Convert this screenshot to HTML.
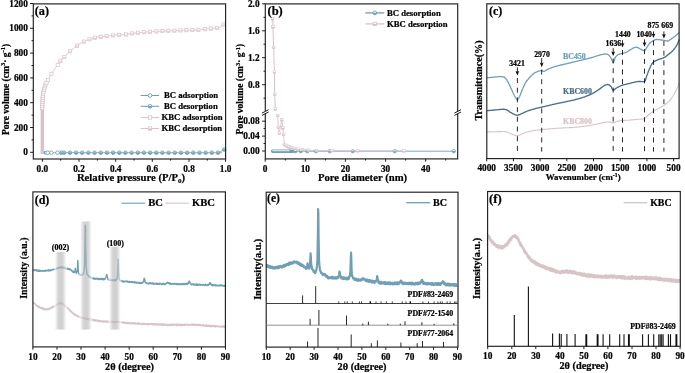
<!DOCTYPE html>
<html><head><meta charset="utf-8"><title>Figure</title>
<style>
html,body{margin:0;padding:0;background:#fff;}
body{width:685px;height:373px;overflow:hidden;font-family:"Liberation Serif",serif;}
svg{display:block;font-family:"Liberation Serif",serif;font-weight:bold;will-change:transform;opacity:0.999;}
text{stroke-width:0.22px;}
</style></head><body>
<svg width="685" height="373" viewBox="0 0 685 373">
<rect width="685" height="373" fill="#fff"/>
<defs><linearGradient id="gb" x1="0" x2="1" y1="0" y2="0"><stop offset="0" stop-color="rgb(255,255,255)"/><stop offset="0.08" stop-color="rgb(250,250,250)"/><stop offset="0.18" stop-color="rgb(223,223,223)"/><stop offset="0.31" stop-color="rgb(190,190,190)"/><stop offset="0.42" stop-color="rgb(181,181,181)"/><stop offset="0.5" stop-color="rgb(179,179,179)"/><stop offset="0.58" stop-color="rgb(181,181,181)"/><stop offset="0.69" stop-color="rgb(190,190,190)"/><stop offset="0.82" stop-color="rgb(223,223,223)"/><stop offset="0.92" stop-color="rgb(250,250,250)"/><stop offset="1" stop-color="rgb(255,255,255)"/></linearGradient></defs>
<rect x="40.6" y="106" width="3.5" height="48" fill="#d8c3c7"/>
<polyline points="42.2,108.1 42.2,107.6 42.3,107.1 42.3,106.6 42.3,106.1 42.3,105.6 42.4,105.1 42.4,104.6 42.4,104.1 42.4,103.6 42.4,103.1 42.4,102.6 42.5,102.1 42.5,101.6 42.5,101.1 42.5,100.6 42.5,100.1 42.5,99.6 42.6,99.1 42.6,98.6 42.6,98.1 42.7,97.6 42.7,97.1 42.7,96.6 42.8,96.1 42.8,95.6 42.9,95.1 42.9,94.6 43,94.1 43.1,93.6 43.2,93.1 43.3,92.7 43.4,92.2 43.6,91.7 43.7,91.2 43.8,90.7 43.9,90.2 44,89.7 44.1,89.2 44.2,88.8 44.3,88.3 44.4,87.8 44.5,87.3 44.7,86.8 44.8,86.3 45,85.9 45.2,85.4 45.4,84.9 45.6,84.5 45.8,84 46,83.6 46.2,83.1 46.5,82.7 46.7,82.3 47,81.8 47.2,81.4 47.5,81 47.7,80.5 48,80.1 48.2,79.7 48.5,79.2 48.7,78.8 48.9,78.4 49.2,77.9 49.4,77.5 49.6,77 49.9,76.6 50.1,76.1 50.4,75.7 50.6,75.3 50.8,74.8 51.1,74.4 51.4,74 51.6,73.5 51.9,73.1 52.2,72.7 52.4,72.3 52.7,71.9 53,71.5 53.3,71.1 53.6,70.7 53.9,70.2 54.2,69.8 54.5,69.4 54.7,69 55,68.6 55.3,68.2 55.6,67.8 55.9,67.4 56.2,67 56.5,66.6 56.8,66.2 57.1,65.8 57.4,65.4 57.7,65 57.9,64.5 58.2,64.1 58.5,63.7 58.7,63.3 59,62.8 59.3,62.4 59.5,62 59.8,61.6 60.1,61.2 60.4,60.8 60.7,60.4 61.1,60 61.4,59.7 61.8,59.3 62.1,59 62.5,58.6 62.9,58.3 63.2,58 63.6,57.6 64,57.3 64.3,56.9 64.7,56.6 65.1,56.2 65.4,55.9 65.8,55.5 66.1,55.2 66.5,54.8 66.8,54.5 67.2,54.1 67.5,53.8 67.9,53.4 68.2,53.1 68.6,52.7 69,52.4 69.3,52 69.7,51.7 70.1,51.3 70.4,51 70.8,50.7 71.2,50.3 71.6,50 71.9,49.7 72.3,49.4 72.7,49 73.1,48.7 73.5,48.4 73.9,48.1 74.3,47.8 74.6,47.5 75,47.2 75.4,46.9 75.8,46.6 76.2,46.3 76.7,46 77.1,45.7 77.5,45.4 77.9,45.1 78.3,44.9 78.7,44.6 79.1,44.3 79.6,44.1 80,43.8 80.4,43.5 80.9,43.3 81.3,43 81.7,42.8 82.2,42.5 82.6,42.3 83.1,42.1 83.5,41.8 84,41.6 84.4,41.4 84.8,41.2 85.3,41 85.8,40.8 86.2,40.6 86.7,40.4 87.1,40.2 87.6,40 88.1,39.8 88.5,39.6 89,39.4 89.5,39.3 89.9,39.1 90.4,39 90.9,38.8 91.4,38.6 91.8,38.5 92.3,38.3 92.8,38.2 93.3,38.1 93.8,38 94.3,37.8 94.8,37.7 95.2,37.6 95.7,37.5 96.2,37.5 96.7,37.4 97.2,37.3 97.7,37.2 98.2,37.2 98.7,37.1 99.2,37 99.7,36.9 100.2,36.9 100.7,36.8 101.2,36.8 101.7,36.7 102.2,36.6 102.7,36.6 103.2,36.5 103.7,36.4 104.2,36.4 104.7,36.3 105.1,36.3 105.6,36.2 106.1,36.2 106.6,36.1 107.1,36.1 107.6,36 108.1,35.9 108.6,35.9 109.1,35.8 109.6,35.8 110.1,35.7 110.6,35.7 111.1,35.6 111.6,35.6 112.1,35.5 112.6,35.5 113.1,35.4 113.6,35.4 114.1,35.3 114.6,35.3 115.1,35.2 115.6,35.2 116.1,35.1 116.6,35.1 117.1,35.1 117.6,35 118.1,35 118.6,34.9 119.1,34.9 119.6,34.9 120.1,34.8 120.6,34.8 121.1,34.8 121.6,34.8 122.1,34.7 122.6,34.7 123.1,34.7 123.6,34.7 124.1,34.6 124.6,34.6 125.1,34.6 125.6,34.5 126.1,34.5 126.6,34.4 127.1,34.4 127.5,34.3 128,34.2 128.5,34.1 129,34 129.5,33.9 130,33.8 130.5,33.7 131,33.6 131.5,33.5 132,33.4 132.5,33.3 133,33.3 133.5,33.2 134,33.2 134.4,33.1 134.9,33.1 135.4,33 135.9,32.9 136.4,32.9 136.9,32.8 137.4,32.8 137.9,32.7 138.4,32.7 138.9,32.7 139.4,32.6 139.9,32.6 140.4,32.5 140.9,32.5 141.4,32.4 141.9,32.4 142.4,32.4 142.9,32.3 143.4,32.3 143.9,32.2 144.4,32.2 144.9,32.2 145.4,32.1 145.9,32.1 146.4,32.1 146.9,32 147.4,32 147.9,32 148.4,31.9 148.9,31.9 149.4,31.9 149.9,31.8 150.4,31.8 150.9,31.8 151.4,31.7 151.9,31.7 152.4,31.7 152.9,31.6 153.4,31.6 153.9,31.6 154.4,31.5 154.9,31.5 155.4,31.5 155.9,31.5 156.4,31.4 156.9,31.4 157.4,31.4 157.9,31.3 158.4,31.3 158.9,31.3 159.4,31.3 159.9,31.2 160.4,31.2 160.9,31.2 161.4,31.2 161.9,31.1 162.4,31.1 162.9,31.1 163.4,31.1 163.9,31 164.4,31 164.9,31 165.4,31 165.9,31 166.4,30.9 166.9,30.9 167.4,30.9 167.9,30.9 168.4,30.8 168.9,30.8 169.4,30.8 169.9,30.8 170.4,30.8 170.9,30.7 171.4,30.7 171.9,30.7 172.4,30.7 172.9,30.7 173.4,30.6 173.9,30.6 174.4,30.6 174.9,30.6 175.4,30.6 175.9,30.5 176.4,30.5 176.9,30.5 177.4,30.5 177.9,30.5 178.4,30.5 178.9,30.4 179.4,30.4 179.9,30.4 180.4,30.4 180.9,30.4 181.4,30.4 181.9,30.4 182.4,30.3 182.9,30.3 183.4,30.3 183.9,30.3 184.4,30.3 184.9,30.3 185.4,30.3 185.9,30.3 186.4,30.2 186.9,30.2 187.4,30.2 187.9,30.2 188.4,30.2 188.9,30.2 189.4,30.2 189.9,30.1 190.4,30.1 190.9,30.1 191.4,30.1 191.9,30.1 192.4,30.1 192.9,30 193.4,30 193.9,30 194.4,30 194.9,30 195.4,29.9 195.9,29.9 196.4,29.9 196.9,29.9 197.4,29.9 197.9,29.8 198.4,29.8 198.9,29.8 199.4,29.7 199.9,29.7 200.4,29.7 200.8,29.6 201.3,29.6 201.8,29.5 202.3,29.5 202.8,29.4 203.3,29.4 203.8,29.3 204.3,29.3 204.8,29.2 205.3,29.1 205.8,29.1 206.3,29 206.8,29 207.3,28.9 207.8,28.9 208.3,28.8 208.8,28.8 209.3,28.7 209.8,28.7 210.3,28.6 210.8,28.6 211.3,28.6 211.9,28.5 212.4,28.5 212.9,28.5 213.4,28.4 213.9,28.4 214.4,28.3 214.9,28.3 215.4,28.2 215.9,28.2 216.4,28.1 216.9,28.1 217.4,28 217.8,27.9 218.3,27.9 218.7,27.8 219.2,27.6 219.6,27.5 220.1,27.2 220.5,27 220.9,26.7 221.3,26.4 221.7,26 222.1,25.7 222.5,25.4 222.9,25 223.3,24.7 223.7,24.4 224.1,24.1 224.5,23.8 224.9,23.5 225.2,23.2" fill="none" stroke="#d8c3c7" stroke-width="1.0" stroke-linejoin="round" />
<rect x="40.6" y="106.5" width="3.2" height="3.2" fill="#fff" stroke="#d8c3c7" stroke-width="0.75"/>
<rect x="40.7" y="104.5" width="3.2" height="3.2" fill="#fff" stroke="#d8c3c7" stroke-width="0.75"/>
<rect x="40.8" y="102.5" width="3.2" height="3.2" fill="#fff" stroke="#d8c3c7" stroke-width="0.75"/>
<rect x="40.9" y="100.5" width="3.2" height="3.2" fill="#fff" stroke="#d8c3c7" stroke-width="0.75"/>
<rect x="40.9" y="98.5" width="3.2" height="3.2" fill="#fff" stroke="#d8c3c7" stroke-width="0.75"/>
<rect x="41" y="96.5" width="3.2" height="3.2" fill="#fff" stroke="#d8c3c7" stroke-width="0.75"/>
<rect x="41.2" y="94.5" width="3.2" height="3.2" fill="#fff" stroke="#d8c3c7" stroke-width="0.75"/>
<rect x="41.4" y="92.5" width="3.2" height="3.2" fill="#fff" stroke="#d8c3c7" stroke-width="0.75"/>
<rect x="41.8" y="90.6" width="3.2" height="3.2" fill="#fff" stroke="#d8c3c7" stroke-width="0.75"/>
<rect x="42.3" y="88.6" width="3.2" height="3.2" fill="#fff" stroke="#d8c3c7" stroke-width="0.75"/>
<rect x="42.7" y="86.7" width="3.2" height="3.2" fill="#fff" stroke="#d8c3c7" stroke-width="0.75"/>
<rect x="43.2" y="84.7" width="3.2" height="3.2" fill="#fff" stroke="#d8c3c7" stroke-width="0.75"/>
<rect x="44" y="82.9" width="3.2" height="3.2" fill="#fff" stroke="#d8c3c7" stroke-width="0.75"/>
<rect x="44.9" y="81.1" width="3.2" height="3.2" fill="#fff" stroke="#d8c3c7" stroke-width="0.75"/>
<rect x="46.4" y="78.5" width="3.2" height="3.2" fill="#fff" stroke="#d8c3c7" stroke-width="0.75"/>
<rect x="49.8" y="72.3" width="3.2" height="3.2" fill="#fff" stroke="#d8c3c7" stroke-width="0.75"/>
<rect x="56.1" y="63.3" width="3.2" height="3.2" fill="#fff" stroke="#d8c3c7" stroke-width="0.75"/>
<rect x="58.8" y="59.2" width="3.2" height="3.2" fill="#fff" stroke="#d8c3c7" stroke-width="0.75"/>
<rect x="58.8" y="60.8" width="3.2" height="1.6" fill="#e4d5d8"/>
<rect x="62.7" y="55.3" width="3.2" height="3.2" fill="#fff" stroke="#d8c3c7" stroke-width="0.75"/>
<rect x="62.7" y="56.9" width="3.2" height="1.6" fill="#e4d5d8"/>
<rect x="68.5" y="49.7" width="3.2" height="3.2" fill="#fff" stroke="#d8c3c7" stroke-width="0.75"/>
<rect x="68.5" y="51.3" width="3.2" height="1.6" fill="#e4d5d8"/>
<rect x="75.5" y="44.1" width="3.2" height="3.2" fill="#fff" stroke="#d8c3c7" stroke-width="0.75"/>
<rect x="75.5" y="45.7" width="3.2" height="1.6" fill="#e4d5d8"/>
<rect x="82.4" y="40" width="3.2" height="3.2" fill="#fff" stroke="#d8c3c7" stroke-width="0.75"/>
<rect x="82.4" y="41.6" width="3.2" height="1.6" fill="#e4d5d8"/>
<rect x="87.9" y="37.7" width="3.2" height="3.2" fill="#fff" stroke="#d8c3c7" stroke-width="0.75"/>
<rect x="87.9" y="39.3" width="3.2" height="1.6" fill="#e4d5d8"/>
<rect x="93.2" y="36.1" width="3.2" height="3.2" fill="#fff" stroke="#d8c3c7" stroke-width="0.75"/>
<rect x="93.2" y="37.7" width="3.2" height="1.6" fill="#e4d5d8"/>
<rect x="99.1" y="35.2" width="3.2" height="3.2" fill="#fff" stroke="#d8c3c7" stroke-width="0.75"/>
<rect x="99.1" y="36.8" width="3.2" height="1.6" fill="#e4d5d8"/>
<rect x="105" y="34.5" width="3.2" height="3.2" fill="#fff" stroke="#d8c3c7" stroke-width="0.75"/>
<rect x="105" y="36.1" width="3.2" height="1.6" fill="#e4d5d8"/>
<rect x="111.5" y="33.8" width="3.2" height="3.2" fill="#fff" stroke="#d8c3c7" stroke-width="0.75"/>
<rect x="111.5" y="35.4" width="3.2" height="1.6" fill="#e4d5d8"/>
<rect x="117.5" y="33.3" width="3.2" height="3.2" fill="#fff" stroke="#d8c3c7" stroke-width="0.75"/>
<rect x="117.5" y="34.9" width="3.2" height="1.6" fill="#e4d5d8"/>
<rect x="124.5" y="32.9" width="3.2" height="3.2" fill="#fff" stroke="#d8c3c7" stroke-width="0.75"/>
<rect x="124.5" y="34.5" width="3.2" height="1.6" fill="#e4d5d8"/>
<rect x="130.4" y="31.8" width="3.2" height="3.2" fill="#fff" stroke="#d8c3c7" stroke-width="0.75"/>
<rect x="130.4" y="33.4" width="3.2" height="1.6" fill="#e4d5d8"/>
<rect x="136.3" y="31.1" width="3.2" height="3.2" fill="#fff" stroke="#d8c3c7" stroke-width="0.75"/>
<rect x="136.3" y="32.7" width="3.2" height="1.6" fill="#e4d5d8"/>
<rect x="142.3" y="30.6" width="3.2" height="3.2" fill="#fff" stroke="#d8c3c7" stroke-width="0.75"/>
<rect x="142.3" y="32.2" width="3.2" height="1.6" fill="#e4d5d8"/>
<rect x="148.3" y="30.2" width="3.2" height="3.2" fill="#fff" stroke="#d8c3c7" stroke-width="0.75"/>
<rect x="148.3" y="31.8" width="3.2" height="1.6" fill="#e4d5d8"/>
<rect x="154.8" y="29.8" width="3.2" height="3.2" fill="#fff" stroke="#d8c3c7" stroke-width="0.75"/>
<rect x="154.8" y="31.4" width="3.2" height="1.6" fill="#e4d5d8"/>
<rect x="160.8" y="29.5" width="3.2" height="3.2" fill="#fff" stroke="#d8c3c7" stroke-width="0.75"/>
<rect x="160.8" y="31.1" width="3.2" height="1.6" fill="#e4d5d8"/>
<rect x="166.8" y="29.2" width="3.2" height="3.2" fill="#fff" stroke="#d8c3c7" stroke-width="0.75"/>
<rect x="166.8" y="30.8" width="3.2" height="1.6" fill="#e4d5d8"/>
<rect x="172.8" y="29" width="3.2" height="3.2" fill="#fff" stroke="#d8c3c7" stroke-width="0.75"/>
<rect x="172.8" y="30.6" width="3.2" height="1.6" fill="#e4d5d8"/>
<rect x="178.8" y="28.8" width="3.2" height="3.2" fill="#fff" stroke="#d8c3c7" stroke-width="0.75"/>
<rect x="178.8" y="30.4" width="3.2" height="1.6" fill="#e4d5d8"/>
<rect x="184.8" y="28.6" width="3.2" height="3.2" fill="#fff" stroke="#d8c3c7" stroke-width="0.75"/>
<rect x="184.8" y="30.2" width="3.2" height="1.6" fill="#e4d5d8"/>
<rect x="190.8" y="28.5" width="3.2" height="3.2" fill="#fff" stroke="#d8c3c7" stroke-width="0.75"/>
<rect x="190.8" y="30.1" width="3.2" height="1.6" fill="#e4d5d8"/>
<rect x="196.8" y="28.2" width="3.2" height="3.2" fill="#fff" stroke="#d8c3c7" stroke-width="0.75"/>
<rect x="196.8" y="29.8" width="3.2" height="1.6" fill="#e4d5d8"/>
<rect x="203.2" y="27.6" width="3.2" height="3.2" fill="#fff" stroke="#d8c3c7" stroke-width="0.75"/>
<rect x="203.2" y="29.2" width="3.2" height="1.6" fill="#e4d5d8"/>
<rect x="209.2" y="27" width="3.2" height="3.2" fill="#fff" stroke="#d8c3c7" stroke-width="0.75"/>
<rect x="209.2" y="28.6" width="3.2" height="1.6" fill="#e4d5d8"/>
<rect x="215.3" y="26.5" width="3.2" height="3.2" fill="#fff" stroke="#d8c3c7" stroke-width="0.75"/>
<rect x="215.3" y="28.1" width="3.2" height="1.6" fill="#e4d5d8"/>
<rect x="222" y="22.9" width="3.2" height="3.2" fill="#fff" stroke="#d8c3c7" stroke-width="0.75"/>
<rect x="222" y="24.5" width="3.2" height="1.6" fill="#e4d5d8"/>
<line x1="44" y1="152.7" x2="222" y2="152.7" stroke="#6f9fb3" stroke-width="0.8" />
<polyline points="219,152.7 224.2,149.6" fill="none" stroke="#6f9fb3" stroke-width="0.8" stroke-linejoin="round" />
<rect x="44.2" y="151" width="2.4" height="3.4" fill="#6f9fb3"/>
<rect x="45" y="151.8" width="1" height="1.8" fill="#fff"/>
<circle cx="47.7" cy="152.7" r="1.8" fill="#fff" stroke="#6f9fb3" stroke-width="0.85"/>
<circle cx="51.4" cy="152.7" r="1.8" fill="#fff" stroke="#6f9fb3" stroke-width="0.85"/>
<circle cx="57.5" cy="152.7" r="1.8" fill="#fff" stroke="#6f9fb3" stroke-width="0.85"/>
<circle cx="61.4" cy="152.7" r="1.8" fill="#c3d7df" stroke="#6f9fb3" stroke-width="0.85"/>
<path d="M59.6,152.4 A1.8,1.8 0 0 0 63.2,152.4 Z" fill="#6f9fb3"/>
<circle cx="64.1" cy="152.7" r="1.8" fill="#c3d7df" stroke="#6f9fb3" stroke-width="0.85"/>
<path d="M62.3,152.4 A1.8,1.8 0 0 0 65.9,152.4 Z" fill="#6f9fb3"/>
<circle cx="69.9" cy="152.7" r="1.8" fill="#c3d7df" stroke="#6f9fb3" stroke-width="0.85"/>
<path d="M68.1,152.4 A1.8,1.8 0 0 0 71.7,152.4 Z" fill="#6f9fb3"/>
<circle cx="76.1" cy="152.7" r="1.8" fill="#c3d7df" stroke="#6f9fb3" stroke-width="0.85"/>
<path d="M74.3,152.4 A1.8,1.8 0 0 0 77.9,152.4 Z" fill="#6f9fb3"/>
<circle cx="82.2" cy="152.7" r="1.8" fill="#c3d7df" stroke="#6f9fb3" stroke-width="0.85"/>
<path d="M80.4,152.4 A1.8,1.8 0 0 0 84,152.4 Z" fill="#6f9fb3"/>
<circle cx="88.4" cy="152.7" r="1.8" fill="#c3d7df" stroke="#6f9fb3" stroke-width="0.85"/>
<path d="M86.6,152.4 A1.8,1.8 0 0 0 90.2,152.4 Z" fill="#6f9fb3"/>
<circle cx="94.6" cy="152.7" r="1.8" fill="#c3d7df" stroke="#6f9fb3" stroke-width="0.85"/>
<path d="M92.8,152.4 A1.8,1.8 0 0 0 96.4,152.4 Z" fill="#6f9fb3"/>
<circle cx="100.8" cy="152.7" r="1.8" fill="#c3d7df" stroke="#6f9fb3" stroke-width="0.85"/>
<path d="M99,152.4 A1.8,1.8 0 0 0 102.6,152.4 Z" fill="#6f9fb3"/>
<circle cx="106.9" cy="152.7" r="1.8" fill="#c3d7df" stroke="#6f9fb3" stroke-width="0.85"/>
<path d="M105.1,152.4 A1.8,1.8 0 0 0 108.7,152.4 Z" fill="#6f9fb3"/>
<circle cx="113.1" cy="152.7" r="1.8" fill="#c3d7df" stroke="#6f9fb3" stroke-width="0.85"/>
<path d="M111.3,152.4 A1.8,1.8 0 0 0 114.9,152.4 Z" fill="#6f9fb3"/>
<circle cx="119.3" cy="152.7" r="1.8" fill="#c3d7df" stroke="#6f9fb3" stroke-width="0.85"/>
<path d="M117.5,152.4 A1.8,1.8 0 0 0 121.1,152.4 Z" fill="#6f9fb3"/>
<circle cx="125.4" cy="152.7" r="1.8" fill="#c3d7df" stroke="#6f9fb3" stroke-width="0.85"/>
<path d="M123.6,152.4 A1.8,1.8 0 0 0 127.2,152.4 Z" fill="#6f9fb3"/>
<circle cx="131.6" cy="152.7" r="1.8" fill="#c3d7df" stroke="#6f9fb3" stroke-width="0.85"/>
<path d="M129.8,152.4 A1.8,1.8 0 0 0 133.4,152.4 Z" fill="#6f9fb3"/>
<circle cx="137.8" cy="152.7" r="1.8" fill="#c3d7df" stroke="#6f9fb3" stroke-width="0.85"/>
<path d="M136,152.4 A1.8,1.8 0 0 0 139.6,152.4 Z" fill="#6f9fb3"/>
<circle cx="143.9" cy="152.7" r="1.8" fill="#c3d7df" stroke="#6f9fb3" stroke-width="0.85"/>
<path d="M142.1,152.4 A1.8,1.8 0 0 0 145.7,152.4 Z" fill="#6f9fb3"/>
<circle cx="150.1" cy="152.7" r="1.8" fill="#c3d7df" stroke="#6f9fb3" stroke-width="0.85"/>
<path d="M148.3,152.4 A1.8,1.8 0 0 0 151.9,152.4 Z" fill="#6f9fb3"/>
<circle cx="156.3" cy="152.7" r="1.8" fill="#c3d7df" stroke="#6f9fb3" stroke-width="0.85"/>
<path d="M154.5,152.4 A1.8,1.8 0 0 0 158.1,152.4 Z" fill="#6f9fb3"/>
<circle cx="162.4" cy="152.7" r="1.8" fill="#c3d7df" stroke="#6f9fb3" stroke-width="0.85"/>
<path d="M160.6,152.4 A1.8,1.8 0 0 0 164.2,152.4 Z" fill="#6f9fb3"/>
<circle cx="168.6" cy="152.7" r="1.8" fill="#c3d7df" stroke="#6f9fb3" stroke-width="0.85"/>
<path d="M166.8,152.4 A1.8,1.8 0 0 0 170.4,152.4 Z" fill="#6f9fb3"/>
<circle cx="174.8" cy="152.7" r="1.8" fill="#c3d7df" stroke="#6f9fb3" stroke-width="0.85"/>
<path d="M173,152.4 A1.8,1.8 0 0 0 176.6,152.4 Z" fill="#6f9fb3"/>
<circle cx="181" cy="152.7" r="1.8" fill="#c3d7df" stroke="#6f9fb3" stroke-width="0.85"/>
<path d="M179.2,152.4 A1.8,1.8 0 0 0 182.8,152.4 Z" fill="#6f9fb3"/>
<circle cx="187.1" cy="152.7" r="1.8" fill="#c3d7df" stroke="#6f9fb3" stroke-width="0.85"/>
<path d="M185.3,152.4 A1.8,1.8 0 0 0 188.9,152.4 Z" fill="#6f9fb3"/>
<circle cx="193.3" cy="152.7" r="1.8" fill="#c3d7df" stroke="#6f9fb3" stroke-width="0.85"/>
<path d="M191.5,152.4 A1.8,1.8 0 0 0 195.1,152.4 Z" fill="#6f9fb3"/>
<circle cx="199.5" cy="152.7" r="1.8" fill="#c3d7df" stroke="#6f9fb3" stroke-width="0.85"/>
<path d="M197.7,152.4 A1.8,1.8 0 0 0 201.3,152.4 Z" fill="#6f9fb3"/>
<circle cx="205.6" cy="152.7" r="1.8" fill="#c3d7df" stroke="#6f9fb3" stroke-width="0.85"/>
<path d="M203.8,152.4 A1.8,1.8 0 0 0 207.4,152.4 Z" fill="#6f9fb3"/>
<circle cx="211.8" cy="152.7" r="1.8" fill="#c3d7df" stroke="#6f9fb3" stroke-width="0.85"/>
<path d="M210,152.4 A1.8,1.8 0 0 0 213.6,152.4 Z" fill="#6f9fb3"/>
<circle cx="218" cy="152.7" r="1.8" fill="#c3d7df" stroke="#6f9fb3" stroke-width="0.85"/>
<path d="M216.2,152.4 A1.8,1.8 0 0 0 219.8,152.4 Z" fill="#6f9fb3"/>
<circle cx="224.2" cy="149.6" r="1.8" fill="#c3d7df" stroke="#6f9fb3" stroke-width="0.85"/>
<path d="M222.4,149.3 A1.8,1.8 0 0 0 226,149.3 Z" fill="#6f9fb3"/>
<rect x="33.3" y="3.9" width="192.3" height="155.1" fill="none" stroke="#1e1e1e" stroke-width="1.15"/>
<line x1="30.1" y1="152.3" x2="33.3" y2="152.3" stroke="#1e1e1e" stroke-width="1.0" />
<text x="27.9" y="155.4" font-size="9.3" text-anchor="end" fill="#000" stroke="#000" >0</text>
<line x1="30.1" y1="127.5" x2="33.3" y2="127.5" stroke="#1e1e1e" stroke-width="1.0" />
<text x="27.9" y="130.6" font-size="9.3" text-anchor="end" fill="#000" stroke="#000" >200</text>
<line x1="30.1" y1="102.7" x2="33.3" y2="102.7" stroke="#1e1e1e" stroke-width="1.0" />
<text x="27.9" y="105.8" font-size="9.3" text-anchor="end" fill="#000" stroke="#000" >400</text>
<line x1="30.1" y1="77.9" x2="33.3" y2="77.9" stroke="#1e1e1e" stroke-width="1.0" />
<text x="27.9" y="81" font-size="9.3" text-anchor="end" fill="#000" stroke="#000" >600</text>
<line x1="30.1" y1="53.1" x2="33.3" y2="53.1" stroke="#1e1e1e" stroke-width="1.0" />
<text x="27.9" y="56.2" font-size="9.3" text-anchor="end" fill="#000" stroke="#000" >800</text>
<line x1="30.1" y1="28.3" x2="33.3" y2="28.3" stroke="#1e1e1e" stroke-width="1.0" />
<text x="27.9" y="31.4" font-size="9.3" text-anchor="end" fill="#000" stroke="#000" >1000</text>
<line x1="30.1" y1="3.5" x2="33.3" y2="3.5" stroke="#1e1e1e" stroke-width="1.0" />
<text x="27.9" y="6.6" font-size="9.3" text-anchor="end" fill="#000" stroke="#000" >1200</text>
<line x1="31.5" y1="139.9" x2="33.3" y2="139.9" stroke="#1e1e1e" stroke-width="1.0" />
<line x1="31.5" y1="115.1" x2="33.3" y2="115.1" stroke="#1e1e1e" stroke-width="1.0" />
<line x1="31.5" y1="90.3" x2="33.3" y2="90.3" stroke="#1e1e1e" stroke-width="1.0" />
<line x1="31.5" y1="65.5" x2="33.3" y2="65.5" stroke="#1e1e1e" stroke-width="1.0" />
<line x1="31.5" y1="40.7" x2="33.3" y2="40.7" stroke="#1e1e1e" stroke-width="1.0" />
<line x1="31.5" y1="15.9" x2="33.3" y2="15.9" stroke="#1e1e1e" stroke-width="1.0" />
<line x1="42.4" y1="159" x2="42.4" y2="161.8" stroke="#1e1e1e" stroke-width="1.0" />
<text x="42.4" y="171.6" font-size="9.3" text-anchor="middle" fill="#000" stroke="#000" >0.0</text>
<line x1="79" y1="159" x2="79" y2="161.8" stroke="#1e1e1e" stroke-width="1.0" />
<text x="79" y="171.6" font-size="9.3" text-anchor="middle" fill="#000" stroke="#000" >0.2</text>
<line x1="115.7" y1="159" x2="115.7" y2="161.8" stroke="#1e1e1e" stroke-width="1.0" />
<text x="115.7" y="171.6" font-size="9.3" text-anchor="middle" fill="#000" stroke="#000" >0.4</text>
<line x1="152.3" y1="159" x2="152.3" y2="161.8" stroke="#1e1e1e" stroke-width="1.0" />
<text x="152.3" y="171.6" font-size="9.3" text-anchor="middle" fill="#000" stroke="#000" >0.6</text>
<line x1="189" y1="159" x2="189" y2="161.8" stroke="#1e1e1e" stroke-width="1.0" />
<text x="189" y="171.6" font-size="9.3" text-anchor="middle" fill="#000" stroke="#000" >0.8</text>
<line x1="225.6" y1="159" x2="225.6" y2="161.8" stroke="#1e1e1e" stroke-width="1.0" />
<text x="225.6" y="171.6" font-size="9.3" text-anchor="middle" fill="#000" stroke="#000" >1.0</text>
<line x1="60.7" y1="159" x2="60.7" y2="160.6" stroke="#1e1e1e" stroke-width="1.0" />
<line x1="97.4" y1="159" x2="97.4" y2="160.6" stroke="#1e1e1e" stroke-width="1.0" />
<line x1="134" y1="159" x2="134" y2="160.6" stroke="#1e1e1e" stroke-width="1.0" />
<line x1="170.6" y1="159" x2="170.6" y2="160.6" stroke="#1e1e1e" stroke-width="1.0" />
<line x1="207.3" y1="159" x2="207.3" y2="160.6" stroke="#1e1e1e" stroke-width="1.0" />
<text x="34.8" y="15.4" font-size="12.2" text-anchor="start" fill="#000" stroke="#000" >(a)</text>
<text x="131" y="180.8" font-size="10.7" text-anchor="middle" fill="#000" stroke="#000" >Relative pressure (P/P<tspan font-size="7" dy="2">0</tspan><tspan dy="-2">)</tspan></text>
<text transform="translate(9,89.4) rotate(-90)" font-size="9.6" text-anchor="middle" fill="#000" stroke="#000">Pore volume (cm<tspan font-size="6.5" dy="-3.9">3</tspan><tspan dy="3.9">· g</tspan><tspan font-size="6.5" dy="-3.9">-1</tspan><tspan dy="3.9">)</tspan></text>
<line x1="140.6" y1="95.5" x2="159" y2="95.5" stroke="#6f9fb3" stroke-width="1.05" />
<circle cx="150" cy="95.5" r="1.85" fill="#fff" stroke="#6f9fb3" stroke-width="0.9"/>
<text x="163.9" y="98.4" font-size="8.7" text-anchor="start" fill="#000" stroke="#000" >BC adsorption</text>
<line x1="140.6" y1="106.3" x2="159" y2="106.3" stroke="#6f9fb3" stroke-width="1.05" />
<circle cx="150" cy="106.3" r="1.85" fill="#fff" stroke="#6f9fb3" stroke-width="0.9"/>
<path d="M148.15,106.1 A1.85,1.85 0 0 0 151.85,106.1 Z" fill="#6f9fb3"/>
<text x="163.9" y="109.2" font-size="8.7" text-anchor="start" fill="#000" stroke="#000" >BC desorption</text>
<line x1="140.6" y1="117.5" x2="159" y2="117.5" stroke="#d8c3c7" stroke-width="1.05" />
<rect x="148.3" y="115.8" width="3.4" height="3.4" fill="#fff" stroke="#d8c3c7" stroke-width="0.8"/>
<text x="161.5" y="120.4" font-size="8.7" text-anchor="start" fill="#000" stroke="#000" >KBC adsorption</text>
<line x1="140.6" y1="128.5" x2="159" y2="128.5" stroke="#d8c3c7" stroke-width="1.05" />
<rect x="148.3" y="126.8" width="3.4" height="3.4" fill="#fff" stroke="#d8c3c7" stroke-width="0.8"/>
<rect x="148.3" y="128.5" width="3.4" height="1.7" fill="#d8c3c7"/>
<text x="161.5" y="131.4" font-size="8.7" text-anchor="start" fill="#000" stroke="#000" >KBC desorption</text>
<line x1="271" y1="151.2" x2="453.8" y2="151.2" stroke="#6f9fb3" stroke-width="0.9" />
<rect x="271" y="149.4" width="24" height="3.6" rx="1.8" fill="#6f9fb3"/>
<rect x="272.4" y="150.2" width="17" height="1" fill="#fff" opacity="0.85"/>
<circle cx="295.4" cy="151.2" r="1.7" fill="#fff" stroke="#6f9fb3" stroke-width="0.8"/>
<path d="M293.7,151 A1.7,1.7 0 0 0 297.1,151 Z" fill="#6f9fb3"/>
<circle cx="300.8" cy="151.2" r="1.7" fill="#fff" stroke="#6f9fb3" stroke-width="0.8"/>
<path d="M299.1,151 A1.7,1.7 0 0 0 302.5,151 Z" fill="#6f9fb3"/>
<circle cx="307.2" cy="151.2" r="1.7" fill="#fff" stroke="#6f9fb3" stroke-width="0.8"/>
<path d="M305.5,151 A1.7,1.7 0 0 0 308.9,151 Z" fill="#6f9fb3"/>
<circle cx="316" cy="151.2" r="1.7" fill="#fff" stroke="#6f9fb3" stroke-width="0.8"/>
<path d="M314.3,151 A1.7,1.7 0 0 0 317.7,151 Z" fill="#6f9fb3"/>
<circle cx="329.8" cy="151.2" r="1.7" fill="#fff" stroke="#6f9fb3" stroke-width="0.8"/>
<path d="M328.1,151 A1.7,1.7 0 0 0 331.5,151 Z" fill="#6f9fb3"/>
<circle cx="352.8" cy="151.2" r="1.7" fill="#fff" stroke="#6f9fb3" stroke-width="0.8"/>
<path d="M351.1,151 A1.7,1.7 0 0 0 354.5,151 Z" fill="#6f9fb3"/>
<circle cx="394.8" cy="151.2" r="1.7" fill="#fff" stroke="#6f9fb3" stroke-width="0.8"/>
<path d="M393.1,151 A1.7,1.7 0 0 0 396.5,151 Z" fill="#6f9fb3"/>
<circle cx="453.8" cy="151.2" r="1.7" fill="#fff" stroke="#6f9fb3" stroke-width="0.8"/>
<path d="M452.1,151 A1.7,1.7 0 0 0 455.5,151 Z" fill="#6f9fb3"/>
<polyline points="272.7,18.9 273,26.9 273.6,47.3 274.4,72.1 274.7,94.4 275.3,108.9" fill="none" stroke="#d8c3c7" stroke-width="1.0" stroke-linejoin="round" />
<polyline points="277.7,115.5 278.3,127.3 279.3,133.2 281.8,119.7 282.8,128 283.6,134.4 284.3,144.4 285.5,145.3 287.1,146.2 288.9,146.9 290.7,147.5 292.4,148 294.2,148.4 297.8,149.2 302.5,149.7 308.4,150.1 316.6,150.5 332,150.7 357.6,150.9 403.9,151" fill="none" stroke="#d8c3c7" stroke-width="0.9" stroke-linejoin="round" />
<rect x="271.4" y="17.6" width="2.6" height="2.6" fill="#fff" stroke="#d8c3c7" stroke-width="0.55"/>
<rect x="271.4" y="18.9" width="2.6" height="1.3" fill="#d8c3c7"/>
<rect x="271.7" y="25.6" width="2.6" height="2.6" fill="#fff" stroke="#d8c3c7" stroke-width="0.55"/>
<rect x="271.7" y="26.9" width="2.6" height="1.3" fill="#d8c3c7"/>
<rect x="272.3" y="46" width="2.6" height="2.6" fill="#fff" stroke="#d8c3c7" stroke-width="0.55"/>
<rect x="272.3" y="47.3" width="2.6" height="1.3" fill="#d8c3c7"/>
<rect x="273.1" y="70.8" width="2.6" height="2.6" fill="#fff" stroke="#d8c3c7" stroke-width="0.55"/>
<rect x="273.1" y="72.1" width="2.6" height="1.3" fill="#d8c3c7"/>
<rect x="273.4" y="93.1" width="2.6" height="2.6" fill="#fff" stroke="#d8c3c7" stroke-width="0.55"/>
<rect x="273.4" y="94.4" width="2.6" height="1.3" fill="#d8c3c7"/>
<rect x="274" y="107.6" width="2.6" height="2.6" fill="#fff" stroke="#d8c3c7" stroke-width="0.55"/>
<rect x="274" y="108.9" width="2.6" height="1.3" fill="#d8c3c7"/>
<rect x="276.4" y="114.2" width="2.6" height="2.6" fill="#fff" stroke="#d8c3c7" stroke-width="0.55"/>
<rect x="276.4" y="115.5" width="2.6" height="1.3" fill="#d8c3c7"/>
<rect x="277" y="126" width="2.6" height="2.6" fill="#fff" stroke="#d8c3c7" stroke-width="0.55"/>
<rect x="277" y="127.3" width="2.6" height="1.3" fill="#d8c3c7"/>
<rect x="278" y="131.9" width="2.6" height="2.6" fill="#fff" stroke="#d8c3c7" stroke-width="0.55"/>
<rect x="278" y="133.2" width="2.6" height="1.3" fill="#d8c3c7"/>
<rect x="280.5" y="118.4" width="2.6" height="2.6" fill="#fff" stroke="#d8c3c7" stroke-width="0.55"/>
<rect x="280.5" y="119.7" width="2.6" height="1.3" fill="#d8c3c7"/>
<rect x="281.5" y="126.7" width="2.6" height="2.6" fill="#fff" stroke="#d8c3c7" stroke-width="0.55"/>
<rect x="281.5" y="128" width="2.6" height="1.3" fill="#d8c3c7"/>
<rect x="282.3" y="133.1" width="2.6" height="2.6" fill="#fff" stroke="#d8c3c7" stroke-width="0.55"/>
<rect x="282.3" y="134.4" width="2.6" height="1.3" fill="#d8c3c7"/>
<rect x="283" y="143.1" width="2.6" height="2.6" fill="#fff" stroke="#d8c3c7" stroke-width="0.55"/>
<rect x="283" y="144.4" width="2.6" height="1.3" fill="#d8c3c7"/>
<rect x="284.2" y="144" width="2.6" height="2.6" fill="#fff" stroke="#d8c3c7" stroke-width="0.55"/>
<rect x="284.2" y="145.3" width="2.6" height="1.3" fill="#d8c3c7"/>
<rect x="285.8" y="144.9" width="2.6" height="2.6" fill="#fff" stroke="#d8c3c7" stroke-width="0.55"/>
<rect x="285.8" y="146.2" width="2.6" height="1.3" fill="#d8c3c7"/>
<rect x="287.6" y="145.6" width="2.6" height="2.6" fill="#fff" stroke="#d8c3c7" stroke-width="0.55"/>
<rect x="287.6" y="146.9" width="2.6" height="1.3" fill="#d8c3c7"/>
<rect x="289.4" y="146.2" width="2.6" height="2.6" fill="#fff" stroke="#d8c3c7" stroke-width="0.55"/>
<rect x="289.4" y="147.5" width="2.6" height="1.3" fill="#d8c3c7"/>
<rect x="291.1" y="146.7" width="2.6" height="2.6" fill="#fff" stroke="#d8c3c7" stroke-width="0.55"/>
<rect x="291.1" y="148" width="2.6" height="1.3" fill="#d8c3c7"/>
<rect x="292.9" y="147.1" width="2.6" height="2.6" fill="#fff" stroke="#d8c3c7" stroke-width="0.55"/>
<rect x="292.9" y="148.4" width="2.6" height="1.3" fill="#d8c3c7"/>
<rect x="296.5" y="147.9" width="2.6" height="2.6" fill="#fff" stroke="#d8c3c7" stroke-width="0.55"/>
<rect x="296.5" y="149.2" width="2.6" height="1.3" fill="#d8c3c7"/>
<rect x="301.2" y="148.4" width="2.6" height="2.6" fill="#fff" stroke="#d8c3c7" stroke-width="0.55"/>
<rect x="301.2" y="149.7" width="2.6" height="1.3" fill="#d8c3c7"/>
<rect x="307.1" y="148.8" width="2.6" height="2.6" fill="#fff" stroke="#d8c3c7" stroke-width="0.55"/>
<rect x="307.1" y="150.1" width="2.6" height="1.3" fill="#d8c3c7"/>
<rect x="315.3" y="149.2" width="2.6" height="2.6" fill="#fff" stroke="#d8c3c7" stroke-width="0.55"/>
<rect x="315.3" y="150.5" width="2.6" height="1.3" fill="#d8c3c7"/>
<rect x="330.7" y="149.4" width="2.6" height="2.6" fill="#fff" stroke="#d8c3c7" stroke-width="0.55"/>
<rect x="330.7" y="150.7" width="2.6" height="1.3" fill="#d8c3c7"/>
<rect x="356.3" y="149.6" width="2.6" height="2.6" fill="#fff" stroke="#d8c3c7" stroke-width="0.55"/>
<rect x="356.3" y="150.9" width="2.6" height="1.3" fill="#d8c3c7"/>
<rect x="402.6" y="149.7" width="2.6" height="2.6" fill="#fff" stroke="#d8c3c7" stroke-width="0.55"/>
<rect x="402.6" y="151" width="2.6" height="1.3" fill="#d8c3c7"/>
<rect x="265.3" y="3.9" width="192.4" height="155" fill="none" stroke="#1e1e1e" stroke-width="1.15"/>
<rect x="264.3" y="111" width="2" height="2.6" fill="#fff"/>
<line x1="262" y1="113.1" x2="268.6" y2="109.7" stroke="#1e1e1e" stroke-width="1.0" />
<line x1="262" y1="115.4" x2="268.6" y2="112" stroke="#1e1e1e" stroke-width="1.0" />
<rect x="456.7" y="111" width="2" height="2.6" fill="#fff"/>
<line x1="454.4" y1="113.1" x2="461" y2="109.7" stroke="#1e1e1e" stroke-width="1.0" />
<line x1="454.4" y1="115.4" x2="461" y2="112" stroke="#1e1e1e" stroke-width="1.0" />
<line x1="262.1" y1="3.8" x2="265.3" y2="3.8" stroke="#1e1e1e" stroke-width="1.0" />
<text x="259.6" y="6.8" font-size="9.3" text-anchor="end" fill="#000" stroke="#000" >2.0</text>
<line x1="262.1" y1="30.8" x2="265.3" y2="30.8" stroke="#1e1e1e" stroke-width="1.0" />
<text x="259.6" y="33.8" font-size="9.3" text-anchor="end" fill="#000" stroke="#000" >1.6</text>
<line x1="262.1" y1="57.7" x2="265.3" y2="57.7" stroke="#1e1e1e" stroke-width="1.0" />
<text x="259.6" y="60.7" font-size="9.3" text-anchor="end" fill="#000" stroke="#000" >1.2</text>
<line x1="262.1" y1="84.7" x2="265.3" y2="84.7" stroke="#1e1e1e" stroke-width="1.0" />
<text x="259.6" y="87.7" font-size="9.3" text-anchor="end" fill="#000" stroke="#000" >0.8</text>
<line x1="263.5" y1="17.3" x2="265.3" y2="17.3" stroke="#1e1e1e" stroke-width="1.0" />
<line x1="263.5" y1="44.2" x2="265.3" y2="44.2" stroke="#1e1e1e" stroke-width="1.0" />
<line x1="263.5" y1="71.2" x2="265.3" y2="71.2" stroke="#1e1e1e" stroke-width="1.0" />
<line x1="263.5" y1="98.2" x2="265.3" y2="98.2" stroke="#1e1e1e" stroke-width="1.0" />
<line x1="262.1" y1="121.2" x2="265.3" y2="121.2" stroke="#1e1e1e" stroke-width="1.0" />
<text x="259.6" y="124.2" font-size="9.3" text-anchor="end" fill="#000" stroke="#000" >0.08</text>
<line x1="262.1" y1="136.1" x2="265.3" y2="136.1" stroke="#1e1e1e" stroke-width="1.0" />
<text x="259.6" y="139.1" font-size="9.3" text-anchor="end" fill="#000" stroke="#000" >0.04</text>
<line x1="262.1" y1="151" x2="265.3" y2="151" stroke="#1e1e1e" stroke-width="1.0" />
<text x="259.6" y="154" font-size="9.3" text-anchor="end" fill="#000" stroke="#000" >0.00</text>
<line x1="263.5" y1="128.6" x2="265.3" y2="128.6" stroke="#1e1e1e" stroke-width="1.0" />
<line x1="263.5" y1="143.5" x2="265.3" y2="143.5" stroke="#1e1e1e" stroke-width="1.0" />
<line x1="265.2" y1="158.9" x2="265.2" y2="161.7" stroke="#1e1e1e" stroke-width="1.0" />
<text x="265.2" y="171.6" font-size="9.3" text-anchor="middle" fill="#000" stroke="#000" >0</text>
<line x1="305.3" y1="158.9" x2="305.3" y2="161.7" stroke="#1e1e1e" stroke-width="1.0" />
<text x="305.3" y="171.6" font-size="9.3" text-anchor="middle" fill="#000" stroke="#000" >10</text>
<line x1="345.4" y1="158.9" x2="345.4" y2="161.7" stroke="#1e1e1e" stroke-width="1.0" />
<text x="345.4" y="171.6" font-size="9.3" text-anchor="middle" fill="#000" stroke="#000" >20</text>
<line x1="385.6" y1="158.9" x2="385.6" y2="161.7" stroke="#1e1e1e" stroke-width="1.0" />
<text x="385.6" y="171.6" font-size="9.3" text-anchor="middle" fill="#000" stroke="#000" >30</text>
<line x1="425.7" y1="158.9" x2="425.7" y2="161.7" stroke="#1e1e1e" stroke-width="1.0" />
<text x="425.7" y="171.6" font-size="9.3" text-anchor="middle" fill="#000" stroke="#000" >40</text>
<line x1="285.3" y1="158.9" x2="285.3" y2="160.5" stroke="#1e1e1e" stroke-width="1.0" />
<line x1="325.4" y1="158.9" x2="325.4" y2="160.5" stroke="#1e1e1e" stroke-width="1.0" />
<line x1="365.5" y1="158.9" x2="365.5" y2="160.5" stroke="#1e1e1e" stroke-width="1.0" />
<line x1="405.6" y1="158.9" x2="405.6" y2="160.5" stroke="#1e1e1e" stroke-width="1.0" />
<line x1="445.7" y1="158.9" x2="445.7" y2="160.5" stroke="#1e1e1e" stroke-width="1.0" />
<text x="267.5" y="15.4" font-size="12.5" text-anchor="start" fill="#000" stroke="#000" >(b)</text>
<text x="362.5" y="180.8" font-size="10.7" text-anchor="middle" fill="#000" stroke="#000" >Pore diameter (nm)</text>
<text transform="translate(243.4,89.1) rotate(-90)" font-size="9.5" text-anchor="middle" fill="#000" stroke="#000">Pore volume (cm<tspan font-size="6.5" dy="-3.9">3</tspan><tspan dy="3.9">· g</tspan><tspan font-size="6.5" dy="-3.9">-1</tspan><tspan dy="3.9">)</tspan></text>
<line x1="365.4" y1="12.9" x2="384.2" y2="12.9" stroke="#6f9fb3" stroke-width="1.3" />
<circle cx="374.8" cy="12.9" r="1.9" fill="#fff" stroke="#6f9fb3" stroke-width="0.9"/>
<path d="M372.9,12.700000000000001 A1.9,1.9 0 0 0 376.7,12.700000000000001 Z" fill="#6f9fb3"/>
<text x="386.9" y="15.7" font-size="8.7" text-anchor="start" fill="#000" stroke="#000" >BC desorption</text>
<line x1="365.4" y1="23.9" x2="384.2" y2="23.9" stroke="#d8c3c7" stroke-width="1.3" />
<rect x="373.1" y="22.2" width="3.4" height="3.4" fill="#fff" stroke="#d8c3c7" stroke-width="0.8"/>
<rect x="373.1" y="23.9" width="3.4" height="1.7" fill="#d8c3c7"/>
<text x="386.9" y="26.7" font-size="8.7" text-anchor="start" fill="#000" stroke="#000" >KBC desorption</text>
<polyline points="486.9,132 487.5,132 488.1,131.9 488.7,131.9 489.3,131.9 489.9,131.9 490.5,131.9 491.1,131.8 491.7,131.8 492.3,131.8 492.9,131.8 493.5,131.7 494.1,131.7 494.7,131.7 495.3,131.7 495.9,131.7 496.5,131.7 497.1,131.6 497.7,131.6 498.3,131.6 498.9,131.6 499.5,131.6 500.1,131.6 500.7,131.6 501.3,131.5 501.9,131.5 502.5,131.5 503.1,131.5 503.7,131.5 504.3,131.5 504.9,131.6 505.5,131.7 506.1,131.8 506.7,131.9 507.2,132.1 507.8,132.2 508.3,132.5 508.9,132.7 509.4,133 510,133.3 510.5,133.6 511,133.9 511.6,134.1 512.2,134.3 512.7,134.5 513.3,134.8 513.8,135 514.4,135.1 515,135.3 515.6,135.4 516.2,135.6 516.8,135.7 517.4,135.7 517.9,135.6 518.5,135.5 519.1,135.3 519.7,135 520.2,134.8 520.8,134.6 521.3,134.3 521.9,134.1 522.4,133.8 523,133.6 523.5,133.3 524.1,133.1 524.6,132.9 525.2,132.6 525.7,132.4 526.3,132.2 526.9,132 527.4,131.9 528,131.7 528.6,131.6 529.2,131.4 529.8,131.3 530.4,131.2 531,131.1 531.5,131 532.1,130.9 532.7,130.8 533.3,130.7 533.9,130.6 534.5,130.5 535.1,130.4 535.7,130.3 536.3,130.3 536.9,130.2 537.5,130.1 538.1,130.1 538.7,130 539.3,129.9 539.9,129.9 540.5,129.8 541.1,129.7 541.7,129.7 542.3,129.6 542.9,129.5 543.4,129.5 544,129.4 544.6,129.4 545.2,129.3 545.8,129.2 546.4,129.2 547,129.1 547.6,129 548.2,129 548.8,128.9 549.4,128.9 550,128.8 550.6,128.8 551.2,128.7 551.8,128.7 552.4,128.6 553,128.6 553.6,128.5 554.2,128.5 554.8,128.4 555.4,128.4 556,128.3 556.6,128.3 557.2,128.3 557.8,128.2 558.4,128.2 559,128.2 559.6,128.1 560.2,128.1 560.8,128.1 561.4,128 562,128 562.6,128 563.2,128 563.8,127.9 564.4,127.9 565,127.9 565.6,127.8 566.2,127.8 566.8,127.8 567.4,127.8 568,127.7 568.6,127.7 569.2,127.7 569.8,127.6 570.4,127.6 571,127.6 571.6,127.5 572.2,127.5 572.8,127.5 573.4,127.4 574,127.4 574.6,127.3 575.2,127.3 575.8,127.2 576.4,127.2 577,127.1 577.6,127.1 578.2,127 578.8,126.9 579.3,126.9 579.9,126.8 580.5,126.7 581.1,126.7 581.7,126.6 582.3,126.5 582.9,126.4 583.5,126.4 584.1,126.3 584.7,126.2 585.3,126.1 585.9,126 586.5,125.9 587.1,125.8 587.7,125.8 588.3,125.7 588.9,125.6 589.5,125.5 590,125.4 590.6,125.3 591.2,125.2 591.8,125.1 592.4,125 593,124.8 593.6,124.7 594.2,124.6 594.8,124.5 595.3,124.3 595.9,124.2 596.5,124.1 597.1,123.9 597.7,123.8 598.3,123.7 598.9,123.5 599.4,123.4 600,123.3 600.6,123.2 601.2,123 601.8,122.9 602.4,122.8 603,122.6 603.6,122.5 604.2,122.4 604.7,122.2 605.3,122.1 605.9,122.1 606.5,122 607.1,122 607.7,122 608.3,122 608.9,122 609.5,122.1 610.1,122.1 610.7,122.2 611.3,122.3 611.9,122.5 612.5,122.7 613,122.9 613.6,122.9 614.1,122.7 614.7,122.5 615.2,122.1 615.8,121.8 616.3,121.6 616.9,121.4 617.5,121.3 618.1,121.1 618.6,121 619.2,120.9 619.8,120.8 620.4,120.8 621,120.7 621.6,120.6 622.2,120.6 622.8,120.5 623.4,120.5 624,120.4 624.6,120.4 625.2,120.4 625.8,120.3 626.4,120.3 627,120.3 627.6,120.2 628.2,120.2 628.8,120.2 629.4,120.1 630,120.1 630.6,120 631.2,120 631.8,119.9 632.4,119.9 633,119.8 633.6,119.7 634.2,119.7 634.8,119.6 635.4,119.6 636,119.5 636.6,119.4 637.2,119.4 637.8,119.3 638.4,119.3 639,119.3 639.7,119.2 640.3,119.2 640.9,119.2 641.5,119.1 642.1,119.1 642.7,119 643.3,118.9 643.8,118.9 644.3,118.8 644.8,118.5 645.3,118.2 645.7,117.8 646.1,117.3 646.5,116.7 646.9,116.2 647.4,115.8 647.8,115.4 648.3,115 648.8,114.7 649.2,114.3 649.7,113.9 650.2,113.5 650.7,113.2 651.1,112.8 651.6,112.5 652.1,112.1 652.6,111.8 653.1,111.4 653.6,111.1 654.1,110.8 654.6,110.5 655.1,110.2 655.7,109.9 656.2,109.6 656.7,109.3 657.3,109 657.8,108.8 658.3,108.5 658.8,108.2 659.4,107.9 659.9,107.6 660.4,107.3 661,107 661.5,106.8 662,106.5 662.6,106.2 663.1,105.9 663.6,105.6 664.1,105.2 664.6,104.9 665.1,104.6 665.5,104.2 666,103.8 666.5,103.5 667,103.1 667.4,102.7 667.9,102.3 668.3,101.9 668.8,101.5 669.2,101.1 669.6,100.6 670,100.2 670.4,99.7 670.7,99.3 671.1,98.8 671.5,98.3 671.8,97.8 672.1,97.3 672.5,96.8 672.8,96.3 673.1,95.8 673.4,95.3 673.7,94.7 674,94.2 674.3,93.7 674.6,93.2 674.9,92.6 675.2,92.1 675.5,91.6 675.8,91.1 676,90.5 676.3,90 676.6,89.4 676.8,88.9 677.1,88.4 677.3,87.8 677.6,87.3 677.8,86.7 678.1,86.2 678.3,85.6 678.6,85.1 678.8,84.5 679,84 679.2,83.5" fill="none" stroke="#d8c3c7" stroke-width="1.1" stroke-linejoin="round" />
<polyline points="486.9,110.7 487.5,110.6 488.1,110.6 488.7,110.5 489.3,110.5 489.9,110.4 490.5,110.4 491.1,110.3 491.7,110.2 492.3,110.2 492.9,110.1 493.5,110.1 494.1,110 494.7,110 495.3,109.9 495.9,109.9 496.5,109.8 497.1,109.8 497.7,109.7 498.3,109.6 498.8,109.6 499.4,109.5 500,109.5 500.6,109.4 501.2,109.3 501.8,109.3 502.4,109.2 503,109.2 503.6,109.2 504.2,109.2 504.8,109.3 505.4,109.5 506,109.6 506.5,109.8 507.1,110 507.6,110.3 508.1,110.7 508.6,111 509.1,111.4 509.6,111.8 510.1,112.1 510.6,112.4 511.2,112.7 511.7,113 512.2,113.3 512.7,113.6 513.2,113.9 513.8,114.1 514.3,114.3 514.9,114.6 515.5,114.8 516.1,115 516.7,115.1 517.2,115.2 517.8,115.2 518.4,115 518.9,114.9 519.5,114.6 520.1,114.4 520.6,114.1 521.2,113.8 521.7,113.6 522.3,113.4 522.8,113.1 523.4,112.8 523.9,112.5 524.4,112.3 525,112 525.5,111.8 526.1,111.6 526.6,111.3 527.2,111.1 527.8,110.9 528.3,110.7 528.9,110.5 529.5,110.3 530,110.2 530.6,110 531.2,109.8 531.8,109.6 532.3,109.4 532.9,109.3 533.5,109.1 534.1,109 534.6,108.8 535.2,108.6 535.8,108.5 536.4,108.3 537,108.2 537.6,108.1 538.1,107.9 538.7,107.8 539.3,107.7 539.9,107.5 540.5,107.4 541.1,107.3 541.7,107.1 542.2,107 542.8,106.9 543.4,106.7 544,106.6 544.6,106.5 545.2,106.3 545.7,106.2 546.3,106 546.9,105.9 547.5,105.8 548.1,105.6 548.7,105.5 549.2,105.4 549.8,105.2 550.4,105.1 551,104.9 551.6,104.8 552.2,104.7 552.8,104.5 553.3,104.4 553.9,104.3 554.5,104.1 555.1,104 555.7,103.9 556.3,103.7 556.8,103.6 557.4,103.5 558,103.4 558.6,103.2 559.2,103.1 559.8,103 560.4,102.9 561,102.8 561.6,102.6 562.1,102.5 562.7,102.4 563.3,102.3 563.9,102.2 564.5,102 565.1,101.9 565.7,101.8 566.3,101.7 566.8,101.5 567.4,101.4 568,101.3 568.6,101.2 569.2,101 569.8,100.9 570.4,100.8 570.9,100.7 571.5,100.5 572.1,100.4 572.7,100.3 573.3,100.1 573.9,100 574.5,99.8 575,99.7 575.6,99.5 576.2,99.4 576.8,99.2 577.4,99.1 577.9,98.9 578.5,98.8 579.1,98.6 579.7,98.4 580.2,98.3 580.8,98.1 581.4,97.9 582,97.7 582.5,97.6 583.1,97.4 583.7,97.2 584.2,97 584.8,96.8 585.4,96.6 585.9,96.4 586.5,96.2 587.1,95.9 587.6,95.7 588.2,95.5 588.7,95.3 589.3,95 589.8,94.8 590.4,94.5 590.9,94.3 591.5,94 592,93.8 592.5,93.5 593,93.2 593.6,92.9 594.1,92.6 594.6,92.3 595.1,91.9 595.6,91.6 596.1,91.3 596.6,91 597.1,90.6 597.6,90.3 598.1,90 598.6,89.6 599.1,89.3 599.6,88.9 600.1,88.6 600.6,88.2 601.1,87.9 601.5,87.5 602,87.2 602.5,86.8 603,86.5 603.5,86.2 604,85.8 604.5,85.5 605.1,85.2 605.6,85 606.2,84.8 606.8,84.7 607.4,84.5 608,84.5 608.5,84.6 609.1,84.9 609.6,85.2 610.1,85.6 610.5,86 610.9,86.5 611.3,86.9 611.6,87.5 611.9,88.2 612.2,88.8 612.5,89.5 612.8,90 613.1,90.3 613.5,90.3 614,89.9 614.5,89.5 615,89.1 615.5,88.7 615.9,88.4 616.4,88 617,87.7 617.5,87.4 618,87.1 618.5,86.9 619.1,86.6 619.6,86.3 620.2,86.1 620.7,85.8 621.3,85.6 621.8,85.4 622.4,85.2 623,85.1 623.5,84.9 624.1,84.7 624.7,84.6 625.3,84.4 625.9,84.3 626.5,84.1 627,84 627.6,83.9 628.2,83.7 628.8,83.6 629.4,83.5 630,83.3 630.6,83.2 631.1,83 631.7,82.9 632.3,82.7 632.9,82.6 633.5,82.4 634.1,82.3 634.7,82.1 635.3,82 635.8,81.9 636.4,81.8 637,81.7 637.6,81.6 638.2,81.5 638.8,81.5 639.4,81.5 640,81.5 640.6,81.5 641.2,81.6 641.8,81.6 642.4,81.6 643,81.6 643.6,81.6 644.3,81.5 644.7,81.3 645,81 645.2,80.6 645.5,80.1 645.7,79.4 645.9,78.8 646,78.1 646.2,77.4 646.4,76.7 646.6,76.1 646.8,75.6 647.1,75 647.3,74.4 647.5,73.9 647.7,73.3 647.9,72.8 648.1,72.2 648.3,71.6 648.5,71.1 648.8,70.5 649,70 649.2,69.4 649.5,68.9 649.7,68.3 650,67.8 650.2,67.2 650.5,66.6 650.7,66.1 651,65.5 651.3,65 651.6,64.4 651.9,63.9 652.2,63.4 652.6,63 652.9,62.6 653.4,62.2 653.8,61.8 654.3,61.5 654.8,61.2 655.4,60.9 655.9,60.6 656.5,60.3 657,60.1 657.6,59.8 658.1,59.6 658.7,59.4 659.3,59.2 659.9,59 660.4,58.8 661,58.7 661.6,58.5 662.2,58.3 662.7,58.1 663.3,57.9 663.8,57.6 664.4,57.4 664.9,57.1 665.4,56.8 665.9,56.4 666.3,56.1 666.8,55.7 667.3,55.3 667.8,54.9 668.2,54.5 668.7,54.2 669.2,53.8 669.7,53.4 670.1,53 670.6,52.7 671.1,52.3 671.5,51.9 672,51.5 672.4,51.1 672.8,50.6 673.2,50.2 673.6,49.7 674,49.3 674.3,48.8 674.7,48.3 675.1,47.8 675.4,47.3 675.7,46.8 676.1,46.3 676.4,45.8 676.7,45.3 677,44.8 677.2,44.2 677.5,43.7 677.8,43.2 678,42.6 678.2,42.1 678.5,41.5 678.7,40.9 678.9,40.4 679.1,39.8 679.2,39.5" fill="none" stroke="#4b6e8c" stroke-width="1.35" stroke-linejoin="round" />
<polyline points="486.9,77.8 487.5,77.7 488.1,77.7 488.7,77.6 489.3,77.6 489.9,77.5 490.5,77.4 491.1,77.4 491.7,77.3 492.3,77.3 492.9,77.2 493.5,77.1 494.1,77.1 494.7,77 495.3,76.9 495.9,76.9 496.5,76.8 497.1,76.8 497.7,76.7 498.3,76.7 498.8,76.7 499.5,76.7 500.1,76.7 500.7,76.7 501.3,76.7 501.9,76.8 502.5,76.8 503,76.8 503.6,76.9 504.2,77.2 504.7,77.6 505.2,77.9 505.6,78.3 506,78.7 506.3,79.2 506.7,79.7 507,80.3 507.3,80.8 507.6,81.3 507.9,81.9 508.2,82.4 508.5,82.9 508.8,83.4 509,84 509.3,84.5 509.6,85.1 509.8,85.6 510.1,86.2 510.3,86.7 510.5,87.3 510.8,87.8 511,88.4 511.3,88.9 511.5,89.5 511.8,90 512,90.6 512.3,91.1 512.5,91.6 512.8,92.2 513,92.7 513.3,93.3 513.5,93.8 513.8,94.4 514.1,94.9 514.3,95.5 514.6,96 514.9,96.5 515.2,97 515.5,97.5 515.9,98.1 516.2,98.7 516.6,99.3 517,99.7 517.4,99.8 517.7,99.6 518.1,99.1 518.5,98.5 518.8,97.8 519.1,97.3 519.4,96.8 519.7,96.2 519.9,95.7 520.2,95.2 520.4,94.6 520.6,94 520.8,93.5 521,92.9 521.3,92.4 521.5,91.8 521.7,91.2 521.9,90.6 522.1,90.1 522.3,89.5 522.6,89 522.8,88.4 523.1,87.9 523.3,87.3 523.6,86.8 523.8,86.2 524.1,85.7 524.3,85.1 524.6,84.6 524.8,84 525.1,83.5 525.4,83 525.7,82.5 526,82 526.3,81.5 526.7,81 527,80.5 527.4,80 527.8,79.6 528.2,79.1 528.6,78.6 529,78.2 529.4,77.7 529.8,77.3 530.2,76.8 530.6,76.4 531,75.9 531.4,75.5 531.8,75.1 532.3,74.7 532.7,74.3 533.2,73.9 533.7,73.6 534.2,73.2 534.7,72.9 535.2,72.6 535.7,72.3 536.3,72.1 536.8,71.8 537.4,71.6 537.9,71.3 538.5,71.1 539.1,71 539.7,70.8 540.3,70.7 540.9,70.6 541.4,70.6 542,70.7 542.6,71 543.2,71.3 543.7,71.4 544.3,71.3 544.8,71 545.3,70.7 545.8,70.3 546.4,70 546.9,69.7 547.4,69.5 548,69.2 548.5,68.9 549.1,68.7 549.6,68.5 550.2,68.2 550.7,68 551.3,67.8 551.8,67.6 552.4,67.4 553,67.2 553.5,67 554.1,66.8 554.7,66.6 555.3,66.4 555.8,66.3 556.4,66.1 557,66 557.6,65.8 558.2,65.7 558.7,65.5 559.3,65.4 559.9,65.3 560.5,65.1 561.1,65 561.7,64.9 562.2,64.7 562.8,64.6 563.4,64.4 564,64.3 564.6,64.2 565.2,64 565.8,63.9 566.3,63.8 566.9,63.6 567.5,63.5 568.1,63.3 568.7,63.2 569.3,63.1 569.8,62.9 570.4,62.8 571,62.7 571.6,62.5 572.2,62.4 572.8,62.2 573.3,62.1 573.9,62 574.5,61.8 575.1,61.7 575.7,61.5 576.3,61.4 576.8,61.3 577.4,61.1 578,61 578.6,60.8 579.2,60.7 579.8,60.5 580.3,60.4 580.9,60.3 581.5,60.1 582.1,60 582.7,59.8 583.3,59.7 583.8,59.5 584.4,59.4 585,59.3 585.6,59.1 586.2,59 586.7,58.8 587.3,58.7 587.9,58.5 588.5,58.4 589.1,58.2 589.7,58.1 590.2,57.9 590.8,57.8 591.4,57.6 592,57.5 592.6,57.3 593.1,57.1 593.7,56.9 594.3,56.8 594.9,56.6 595.4,56.4 596,56.2 596.6,56 597.2,55.8 597.7,55.7 598.3,55.5 598.9,55.3 599.5,55.1 600,55 600.6,54.8 601.2,54.7 601.8,54.6 602.4,54.4 603,54.3 603.5,54.2 604.1,54.2 604.7,54.1 605.3,54 605.9,54 606.5,54.1 607.1,54.2 607.7,54.5 608.2,54.8 608.7,55.1 609.1,55.5 609.5,55.9 609.9,56.4 610.2,56.9 610.6,57.5 610.9,58 611.2,58.5 611.5,59.1 611.8,59.8 612.1,60.5 612.4,61.2 612.6,61.8 612.9,62.3 613.1,62.5 613.4,62.6 613.6,62.4 613.8,62 614,61.4 614.2,60.7 614.4,60 614.6,59.2 614.8,58.5 615.1,57.9 615.4,57.4 615.7,56.9 616.1,56.4 616.5,55.9 617,55.5 617.5,55.1 617.9,54.8 618.4,54.5 618.9,54.3 619.5,54.1 620.1,53.9 620.6,53.8 621.3,53.7 621.9,53.5 622.5,53.4 623.1,53.2 623.6,53.1 624.2,52.9 624.8,52.8 625.4,52.6 625.9,52.4 626.5,52.2 627,51.9 627.5,51.6 628,51.2 628.5,50.9 629,50.5 629.5,50.2 630,49.9 630.5,49.6 631.1,49.3 631.6,49 632.1,48.7 632.6,48.4 633.2,48.1 633.7,47.9 634.3,47.7 634.9,47.5 635.5,47.3 636,47.2 636.6,47.2 637.2,47.4 637.8,47.6 638.3,47.9 638.9,48.2 639.4,48.4 639.9,48.7 640.4,49 641,49.3 641.5,49.6 642,49.9 642.5,50.2 643.1,50.4 643.7,50.7 644.3,50.9 644.7,50.8 645.1,50.5 645.4,49.9 645.8,49.2 646.1,48.7 646.4,48.2 646.7,47.6 647,47.1 647.3,46.6 647.6,46.1 647.9,45.6 648.3,45.1 648.6,44.6 649,44.1 649.4,43.6 649.8,43.2 650.2,42.8 650.6,42.4 651.1,42 651.6,41.7 652.1,41.4 652.6,41.1 653.2,40.8 653.7,40.5 654.3,40.2 654.8,39.9 655.3,39.6 655.9,39.5 656.5,39.5 657.1,39.5 657.7,39.6 658.3,39.6 658.9,39.7 659.5,39.7 660.1,39.8 660.7,39.9 661.3,40 661.9,40 662.5,40.1 663.1,40.2 663.6,40.3 664.2,40.4 664.8,40.6 665.4,40.7 666,40.8 666.6,40.9 667.2,41 667.8,41 668.3,40.8 668.9,40.5 669.4,40.2 669.9,39.8 670.4,39.5 670.9,39.2 671.4,38.9 671.9,38.5 672.4,38.1 672.9,37.8 673.3,37.4 673.8,37 674.3,36.7 674.8,36.3 675.2,35.9 675.7,35.5 676.2,35.2 676.6,34.8 677.1,34.4 677.5,34 678,33.6 678.5,33.2 678.9,32.8 679.2,32.6" fill="none" stroke="#6f9fb3" stroke-width="1.3" stroke-linejoin="round" />
<line x1="517.4" y1="78" x2="517.4" y2="151.6" stroke="#111" stroke-width="0.9" stroke-dasharray="5 4.7"/>
<line x1="517.4" y1="67.3" x2="517.4" y2="74.1" stroke="#111" stroke-width="0.9" />
<path d="M515.5,71 L517.4,71.8 L519.3,71 L517.4,75.6 Z" fill="#111"/>
<line x1="541.7" y1="69.5" x2="541.7" y2="151.6" stroke="#111" stroke-width="0.9" stroke-dasharray="5 4.7"/>
<line x1="541.7" y1="58.2" x2="541.7" y2="65.7" stroke="#111" stroke-width="0.9" />
<path d="M539.8,62.6 L541.7,63.4 L543.6,62.6 L541.7,67.2 Z" fill="#111"/>
<line x1="613.2" y1="58.5" x2="613.2" y2="151.6" stroke="#111" stroke-width="0.9" stroke-dasharray="5 4.7"/>
<line x1="613.2" y1="48.2" x2="613.2" y2="54.5" stroke="#111" stroke-width="0.9" />
<path d="M611.3,51.4 L613.2,52.2 L615.1,51.4 L613.2,56 Z" fill="#111"/>
<line x1="622.5" y1="50" x2="622.5" y2="151.6" stroke="#111" stroke-width="0.9" stroke-dasharray="5 4.7"/>
<line x1="622.5" y1="40.2" x2="622.5" y2="46.1" stroke="#111" stroke-width="0.9" />
<path d="M620.6,43 L622.5,43.8 L624.4,43 L622.5,47.6 Z" fill="#111"/>
<line x1="644.5" y1="49.2" x2="644.5" y2="151.6" stroke="#111" stroke-width="0.9" stroke-dasharray="5 4.7"/>
<line x1="644.5" y1="39.4" x2="644.5" y2="45.3" stroke="#111" stroke-width="0.9" />
<path d="M642.6,42.2 L644.5,43 L646.4,42.2 L644.5,46.8 Z" fill="#111"/>
<line x1="653.5" y1="40.4" x2="653.5" y2="151.6" stroke="#111" stroke-width="0.9" stroke-dasharray="5 4.7"/>
<line x1="653.5" y1="31.4" x2="653.5" y2="36.5" stroke="#111" stroke-width="0.9" />
<path d="M651.6,33.4 L653.5,34.2 L655.4,33.4 L653.5,38 Z" fill="#111"/>
<line x1="663.9" y1="41" x2="663.9" y2="151.6" stroke="#111" stroke-width="0.9" stroke-dasharray="5 4.7"/>
<line x1="663.9" y1="31.4" x2="663.9" y2="37.1" stroke="#111" stroke-width="0.9" />
<path d="M662,34 L663.9,34.8 L665.8,34 L663.9,38.6 Z" fill="#111"/>
<text x="517" y="65.7" font-size="7.8" text-anchor="middle" fill="#000" stroke="#000" >3421</text>
<text x="542" y="56.6" font-size="7.8" text-anchor="middle" fill="#000" stroke="#000" >2970</text>
<text x="605.6" y="46.3" font-size="7.8" text-anchor="start" fill="#000" stroke="#000" >1636</text>
<text x="622.9" y="36.7" font-size="7.8" text-anchor="middle" fill="#000" stroke="#000" >1440</text>
<text x="636.4" y="37.3" font-size="7.8" text-anchor="start" fill="#000" stroke="#000" >1040</text>
<text x="653.4" y="27.7" font-size="7.8" text-anchor="middle" fill="#000" stroke="#000" >875</text>
<text x="667.2" y="27.7" font-size="7.8" text-anchor="middle" fill="#000" stroke="#000" >669</text>
<text x="563" y="58.5" font-size="7.9" text-anchor="start" fill="#6f9fb3" stroke="#6f9fb3" >BC450</text>
<text x="563" y="93.7" font-size="7.9" text-anchor="start" fill="#4b6e8c" stroke="#4b6e8c" >KBC600</text>
<text x="563" y="124.4" font-size="7.9" text-anchor="start" fill="#d8c3c7" stroke="#d8c3c7" >KBC800</text>
<rect x="486.8" y="3.8" width="192.3" height="154.8" fill="none" stroke="#1e1e1e" stroke-width="1.15"/>
<line x1="486.7" y1="158.5" x2="486.7" y2="161.3" stroke="#1e1e1e" stroke-width="1.0" />
<text x="486.7" y="171.3" font-size="9.3" text-anchor="middle" fill="#000" stroke="#000" >4000</text>
<line x1="513.4" y1="158.5" x2="513.4" y2="161.3" stroke="#1e1e1e" stroke-width="1.0" />
<text x="513.4" y="171.3" font-size="9.3" text-anchor="middle" fill="#000" stroke="#000" >3500</text>
<line x1="540.1" y1="158.5" x2="540.1" y2="161.3" stroke="#1e1e1e" stroke-width="1.0" />
<text x="540.1" y="171.3" font-size="9.3" text-anchor="middle" fill="#000" stroke="#000" >3000</text>
<line x1="566.8" y1="158.5" x2="566.8" y2="161.3" stroke="#1e1e1e" stroke-width="1.0" />
<text x="566.8" y="171.3" font-size="9.3" text-anchor="middle" fill="#000" stroke="#000" >2500</text>
<line x1="593.5" y1="158.5" x2="593.5" y2="161.3" stroke="#1e1e1e" stroke-width="1.0" />
<text x="593.5" y="171.3" font-size="9.3" text-anchor="middle" fill="#000" stroke="#000" >2000</text>
<line x1="620.2" y1="158.5" x2="620.2" y2="161.3" stroke="#1e1e1e" stroke-width="1.0" />
<text x="620.2" y="171.3" font-size="9.3" text-anchor="middle" fill="#000" stroke="#000" >1500</text>
<line x1="646.9" y1="158.5" x2="646.9" y2="161.3" stroke="#1e1e1e" stroke-width="1.0" />
<text x="646.9" y="171.3" font-size="9.3" text-anchor="middle" fill="#000" stroke="#000" >1000</text>
<line x1="673.6" y1="158.5" x2="673.6" y2="161.3" stroke="#1e1e1e" stroke-width="1.0" />
<text x="673.6" y="171.3" font-size="9.3" text-anchor="middle" fill="#000" stroke="#000" >500</text>
<text x="489" y="15" font-size="12" text-anchor="start" fill="#000" stroke="#000" >(c)</text>
<text x="583.2" y="180.2" font-size="8.8" text-anchor="middle" fill="#000" stroke="#000" >Wavenumber (cm<tspan font-size="5.8" dy="-3.2">-1</tspan><tspan dy="3.2">)</tspan></text>
<text transform="translate(482,80.4) rotate(-90)" font-size="10.2" text-anchor="middle" fill="#000" stroke="#000">Transmittance(%)</text>
<polyline points="33.2,269.1 33.5,270.1 33.7,269.7 34,270.2 34.2,270.6 34.5,270 34.7,270 35,269.5 35.2,269.8 35.5,270.2 35.7,270.5 36,270.7 36.2,270.2 36.5,269.8 36.7,270.2 37,271 37.2,270.1 37.5,270.5 37.7,271.1 38,270 38.2,270.8 38.5,271.3 38.7,270.4 39,270.8 39.2,271.3 39.5,270.3 39.7,270.8 40,271.2 40.2,271.1 40.5,270.8 40.7,270.5 41,270.9 41.2,270.7 41.5,270.9 41.7,270.7 42,271.3 42.2,271.2 42.5,270.6 42.7,271 43,270.6 43.2,270.8 43.5,270.7 43.7,271.1 44,270.7 44.2,270.8 44.5,271.1 44.7,270.7 45,271.3 45.2,270.3 45.5,271.1 45.7,270.6 46,270.6 46.2,270.9 46.5,270.7 46.7,270.5 47,270 47.2,270.1 47.5,270.8 47.7,270.6 48,270.8 48.2,271.1 48.5,270.7 48.7,269.8 49,270.1 49.2,270.5 49.5,270 49.7,270.9 50,270.9 50.2,270.7 50.5,270.2 50.7,270.6 51,269.7 51.2,269.9 51.5,270 51.7,270.4 52,270 52.2,269.5 52.5,269.7 52.7,269.7 53,269.6 53.2,269.3 53.5,269.6 53.7,269.6 54,269.9 54.2,269.9 54.5,269.4 54.7,269.2 55,269.6 55.2,269.6 55.5,269.2 55.7,269.3 56,269.4 56.2,268.1 56.5,269.1 56.7,268.2 57,268.4 57.2,268.7 57.5,268.5 57.7,267.7 58,268.3 58.2,267.4 58.5,267.7 58.7,268.2 59,267.7 59.2,267.8 59.5,267.9 59.7,268 60,267.9 60.2,266.9 60.5,267.4 60.7,267.4 61,266.9 61.2,267.5 61.5,267.6 61.7,267.9 62,268.1 62.2,267 62.5,267.2 62.7,267.8 63,267.1 63.2,267.3 63.5,267.8 63.7,267.3 64,268.2 64.2,268.3 64.5,267.3 64.7,268 65,268.4 65.2,268.7 65.5,267.8 65.7,267.8 66,268.8 66.2,268.9 66.5,268 66.7,268.4 67,268.8 67.2,269.1 67.5,268.3 67.7,269 68,269.2 68.2,269 68.5,268.6 68.7,268.5 69,268.9 69.2,269.7 69.5,268.8 69.7,268.9 70,269.5 70.2,269.2 70.5,269.5 70.7,269.5 71,270.3 71.2,270.7 71.5,270.5 71.7,270.3 72,270.7 72.2,271.2 72.5,271.8 72.7,272 73,271.2 73.2,271 73.5,272.2 73.7,272.5 74,271.9 74.2,272.4 74.5,272.5 74.7,272.1 75,271.8 75.2,268.3 75.5,269.4 75.7,271.5 76,272 76.2,273.2 76.5,272.1 76.7,272.9 77,271.7 77.2,271 77.5,268 77.7,260.4 78,262.6 78.2,269.5 78.5,271.9 78.7,273.6 79,273.4 79.2,273.8 79.5,274.3 79.7,274.5 80,274.4 80.2,275.4 80.5,275.3 80.7,274.4 81,274.8 81.2,274.6 81.5,274.9 81.7,274.6 82,274.9 82.2,275.3 82.5,274.5 82.7,274.6 83,274.3 83.2,274.1 83.5,272.7 83.7,272.8 84,271.8 84.2,269.3 84.5,265.2 84.7,258.5 85,244.5 85.2,225.2 85.5,227.8 85.7,248.5 86,260.9 86.2,266.5 86.5,270.1 86.7,271.3 87,273.8 87.2,274.4 87.5,274.7 87.7,275.3 88,275 88.2,275.4 88.5,275.6 88.7,276.3 89,275.8 89.2,277.1 89.5,276.7 89.7,276.8 90,276.5 90.2,277.4 90.5,277.7 90.7,277.6 91,277.3 91.2,278.1 91.5,277.4 91.7,278.4 92,278.1 92.2,277.9 92.5,278.2 92.7,278.5 93,278 93.2,278.9 93.5,278.3 93.7,279 94,279 94.2,278 94.5,278.8 94.7,278.4 95,279 95.2,278.7 95.5,278.6 95.7,279.2 96,278.2 96.2,278.8 96.5,278.5 96.7,278.2 97,279.1 97.2,278.9 97.5,279.4 97.7,279 98,278.7 98.2,279.5 98.5,278.4 98.7,278.3 99,279.2 99.2,278.8 99.5,278.8 99.7,279.4 100,278.7 100.2,279.5 100.5,279.2 100.7,278.8 101,278.4 101.2,278.7 101.5,279.6 101.7,278.9 102,278.6 102.2,278.8 102.5,279.6 102.7,278.6 103,279.5 103.2,278.6 103.5,279.7 103.7,279.1 104,278.5 104.2,279.6 104.5,278.9 104.7,279.3 105,279 105.2,278.3 105.5,278.2 105.7,277.9 106,277.4 106.2,276.2 106.5,274.6 106.7,274.7 107,274.7 107.2,276.9 107.5,277.5 107.7,278.2 108,279.3 108.2,279.8 108.5,279.3 108.7,278.9 109,280.2 109.2,279.1 109.5,279.6 109.7,279.9 110,280.4 110.2,280.3 110.5,280.1 110.7,279.9 111,280.5 111.2,280.5 111.5,280.6 111.7,280.4 112,279.6 112.2,279.9 112.5,280.2 112.7,280.2 113,280.7 113.2,279.9 113.5,280.5 113.7,280.2 114,280.7 114.2,280 114.5,280.3 114.7,279.8 115,280 115.2,280.9 115.5,280.1 115.7,280.8 116,280.2 116.2,279.4 116.5,280.2 116.7,278.9 117,279.3 117.2,277.3 117.5,276.3 117.7,271.9 118,264.8 118.2,259.3 118.5,265 118.7,272.7 119,276.6 119.2,277.7 119.5,279.7 119.7,280.4 120,279.8 120.2,280.6 120.5,280.4 120.7,281.2 121,280.4 121.2,281.1 121.5,281.5 121.7,281.5 122,280.7 122.2,281.7 122.5,281 122.7,281.8 123,281.4 123.2,281 123.5,281.7 123.7,281.9 124,281.7 124.2,282.1 124.5,281.2 124.7,281.2 125,281.1 125.2,281.6 125.5,281.4 125.7,281.4 126,281.5 126.2,281.3 126.5,281 126.7,281.6 127,281.3 127.2,281.6 127.5,282.2 127.7,281.2 128,281.8 128.2,281.9 128.4,281.4 128.7,281.7 128.9,282.3 129.2,281.5 129.4,282 129.7,282.2 129.9,281.6 130.2,282.4 130.4,282 130.7,281.8 130.9,282.1 131.2,281.8 131.4,282.2 131.7,281.6 131.9,282.5 132.2,282 132.4,281.7 132.7,282 132.9,282.6 133.2,282.5 133.4,282.1 133.7,282 133.9,282.1 134.2,282.9 134.4,281.8 134.7,282.8 134.9,282.8 135.2,282 135.4,282.2 135.7,282.6 135.9,282.9 136.2,283.1 136.4,283.2 136.7,282.3 136.9,282.2 137.2,282.6 137.4,282.7 137.7,282.9 137.9,282.2 138.2,282.9 138.4,283.3 138.7,283.3 138.9,283.4 139.2,283.3 139.4,283.4 139.7,282.2 139.9,283.4 140.2,282.6 140.4,282.6 140.7,282.8 140.9,283.5 141.2,283 141.4,282.7 141.7,282.7 141.9,283.4 142.2,283.2 142.4,282.3 142.7,282.3 142.9,282.4 143.2,281.9 143.4,282 143.7,280.7 143.9,279.7 144.2,278.2 144.4,278.4 144.7,279.5 144.9,281 145.2,282 145.4,282.7 145.7,282.6 145.9,282.6 146.2,282.8 146.4,282.7 146.7,283.6 146.9,283.4 147.2,283.1 147.4,283.5 147.7,283.3 147.9,283.3 148.2,283.1 148.4,283.3 148.7,284 148.9,283.7 149.2,283.8 149.4,282.9 149.7,283.4 149.9,283.3 150.2,282.9 150.4,283.3 150.7,282.9 150.9,283.2 151.2,283.9 151.4,283.8 151.7,283.8 151.9,283 152.2,283.1 152.4,282.9 152.7,283.1 152.9,283.1 153.2,284.2 153.4,284.1 153.7,283.2 153.9,283.3 154.2,284.2 154.4,283.8 154.7,283.5 154.9,283.6 155.2,283.4 155.4,283.8 155.7,284 155.9,283.7 156.2,284.1 156.4,283.2 156.7,283.9 156.9,284.4 157.2,283.3 157.4,283.8 157.7,284 157.9,283.6 158.2,284.4 158.4,283.8 158.7,283.8 158.9,284.3 159.2,283.2 159.4,284.3 159.7,283.4 159.9,283.7 160.2,283.8 160.4,283.8 160.7,283.3 160.9,283.6 161.2,283.7 161.4,284.5 161.7,284.4 161.9,284 162.2,284.5 162.4,284.4 162.7,283.7 162.9,283.4 163.2,284 163.4,283.7 163.7,283.3 163.9,284.5 164.2,284.5 164.4,283.9 164.7,284 164.9,284.1 165.2,284.4 165.4,283.8 165.7,283.9 165.9,283.4 166.2,283.3 166.4,283.6 166.7,283.1 166.9,282.7 167.2,282.9 167.4,283.2 167.7,282.3 167.9,282.9 168.2,282.8 168.4,282.9 168.7,283.5 168.9,282.7 169.2,283 169.4,284.1 169.7,284.2 169.9,283.2 170.2,284.2 170.4,283.2 170.7,283.4 170.9,283.4 171.2,283.7 171.4,283.8 171.7,284.5 171.9,283.9 172.2,283.5 172.4,283.7 172.7,283.4 172.9,283.4 173.2,283.9 173.4,284 173.7,283.7 173.9,283.9 174.2,283.5 174.4,284.2 174.7,283.9 174.9,283.6 175.2,284 175.4,283.7 175.7,283.8 175.9,283.6 176.2,284.4 176.4,283.8 176.7,284.6 176.9,283.9 177.2,283.6 177.4,284.3 177.7,284.4 177.9,284.6 178.2,283.6 178.4,284.4 178.7,284.5 178.9,283.8 179.2,284 179.4,284.2 179.7,283.7 179.9,284.6 180.2,284.3 180.4,284.5 180.7,284 180.9,284.1 181.2,283.7 181.4,283.8 181.7,284.4 181.9,284.7 182.2,283.6 182.4,283.5 182.7,283.5 182.9,284 183.2,284.5 183.4,283.7 183.7,284.1 183.9,284.1 184.2,284.5 184.4,283.6 184.7,283.4 184.9,284.1 185.2,283.9 185.4,283.8 185.7,284.4 185.9,284.3 186.2,283.5 186.4,284.1 186.7,284.4 186.9,284.5 187.2,283.2 187.4,284.2 187.7,283.1 187.9,283.8 188.2,283.5 188.4,283.6 188.7,282.7 188.9,281.3 189.2,281.6 189.4,281.2 189.7,282.5 189.9,282.2 190.2,283.1 190.4,283.9 190.7,283.4 190.9,284.2 191.2,284.4 191.4,284.5 191.7,284.8 191.9,284.2 192.2,283.9 192.4,284.1 192.7,284.3 192.9,283.9 193.2,284.8 193.4,284 193.7,284 193.9,285.1 194.2,285 194.4,284.3 194.7,284.4 194.9,285 195.2,284.8 195.4,284.3 195.7,284.6 195.9,285.1 196.2,284 196.4,285.3 196.7,284.8 196.9,284.3 197.2,285.1 197.4,284.2 197.7,284.6 197.9,284.8 198.2,284.4 198.4,285.3 198.7,285 198.9,284.3 199.2,284.3 199.4,284.2 199.7,284.9 199.9,284.4 200.2,284.9 200.4,285.3 200.7,285.3 200.9,284.4 201.2,284.6 201.4,284.8 201.7,284.7 201.9,284.8 202.2,284.8 202.4,285.2 202.7,284.6 202.9,284.7 203.2,284.8 203.4,284.5 203.7,285.1 203.9,284.8 204.2,285.5 204.4,285.4 204.7,284.6 204.9,284.6 205.2,285.3 205.4,285 205.7,284.3 205.9,285.1 206.2,284.8 206.4,285.3 206.7,285.3 206.9,285.5 207.2,285.2 207.4,285.4 207.7,284.6 207.9,284.6 208.2,284.2 208.4,285.2 208.7,284.2 208.9,284.6 209.2,284.3 209.4,284.3 209.7,283.3 209.9,282.6 210.2,282.8 210.4,282.8 210.7,283.6 210.9,284.4 211.2,284 211.4,285.3 211.7,284.9 211.9,284.7 212.2,285.4 212.4,284.6 212.7,284.8 212.9,285.7 213.2,284.8 213.4,285.5 213.7,284.6 213.9,285.2 214.2,285.4 214.4,284.9 214.7,285 214.9,285.3 215.2,285.4 215.4,284.8 215.7,285.2 215.9,286 216.2,285.1 216.4,285.7 216.7,285 216.9,285.3 217.2,285.4 217.4,285.5 217.7,285.7 217.9,285.8 218.2,285.7 218.4,285.8 218.7,285.9 218.9,285.2 219.2,285.9 219.4,285.5 219.7,285.2 219.9,285.1 220.2,285.8 220.4,285.7 220.7,285 220.9,285.6 221.2,284.9 221.4,285.4 221.7,285.6 221.9,285.8 222.2,285.1 222.4,285 222.7,285.7 222.9,286 223.2,286 223.4,285.4 223.7,285.7 223.9,285.9 224.2,286.1 224.4,285.6 224.7,286.2 224.9,285.4 225.2,285.3" fill="none" stroke="#6f9fb3" stroke-width="1.4" stroke-linejoin="round" />
<polyline points="33.2,302 33.5,302.7 33.7,303.2 34,302.9 34.2,303.4 34.5,303 34.7,303.7 35,303.9 35.2,304.1 35.5,304 35.7,304.8 36,305 36.2,305.2 36.5,305.5 36.7,305.4 37,306.1 37.2,305.9 37.5,306.5 37.7,306.1 38,306.6 38.2,306.1 38.5,306.1 38.7,307.3 39,306.7 39.2,306.5 39.5,307.3 39.7,307.8 40,307.7 40.2,308.1 40.5,308.1 40.7,307.7 41,307.5 41.2,307.4 41.5,307.8 41.7,308.3 42,308.8 42.2,307.8 42.5,308.9 42.7,308.9 43,308.9 43.2,308.3 43.5,308.3 43.7,309.2 44,309.1 44.2,308.9 44.5,308.9 44.7,308.6 45,309.8 45.2,309.6 45.5,309.8 45.7,309.7 46,309.2 46.2,309.7 46.5,308.9 46.7,309.5 47,308.9 47.2,309.1 47.5,309.6 47.7,309 48,309.6 48.2,309.1 48.5,308.7 48.7,308.6 49,308.2 49.2,308.8 49.5,309 49.7,308.2 50,308.4 50.2,308.9 50.5,308.1 50.7,308.6 51,308.4 51.2,307.9 51.5,307.9 51.7,307.1 52,307.6 52.2,307.7 52.5,307 52.7,306.7 53,306.5 53.2,306.6 53.5,306.5 53.7,307.1 54,306.6 54.2,306.5 54.5,306.1 54.7,306 55,306.1 55.2,306.2 55.5,305.3 55.7,305.4 56,305.5 56.2,305.7 56.5,304.7 56.7,304.6 57,304.6 57.2,304 57.5,304.3 57.7,304.6 58,303.6 58.2,303.7 58.5,303.1 58.7,303.5 59,303.9 59.2,303.3 59.5,302.9 59.7,302.9 60,303.3 60.2,303.5 60.5,303.1 60.7,303.1 61,303.6 61.2,302.8 61.5,303.9 61.7,303.4 62,303.4 62.2,304.1 62.5,303.6 62.7,303.6 63,303.9 63.2,304.6 63.5,304.1 63.7,304.7 64,304.7 64.2,305.3 64.5,305 64.7,306 65,306.4 65.2,305.9 65.5,306.1 65.7,306.6 66,307 66.2,306.4 66.5,307.4 66.7,307.7 67,307.9 67.2,307.7 67.5,308.3 67.7,308.2 68,308 68.2,308.4 68.5,309 68.7,309.2 69,309.7 69.2,309.9 69.5,309.5 69.7,310 70,310.7 70.2,310.6 70.5,310.6 70.7,311.7 71,311.3 71.2,311.4 71.5,311.9 71.7,311.9 72,312.1 72.2,312.8 72.5,313.2 72.7,313 73,312.9 73.2,313.5 73.5,313.6 73.7,313.8 74,313.7 74.2,314.5 74.5,314 74.7,313.9 75,314.9 75.2,315.1 75.5,314.6 75.7,314.7 76,315.3 76.2,315.8 76.5,315.2 76.7,315.7 77,315.5 77.2,316.1 77.5,315.9 77.7,316 78,316.4 78.2,316.4 78.5,316.1 78.7,316.4 79,317.2 79.2,317.1 79.5,316.9 79.7,317.1 80,316.6 80.2,317 80.5,317.7 80.7,316.9 81,318 81.2,317.9 81.5,317.8 81.7,317.5 82,317.2 82.2,317.5 82.5,318.1 82.7,317.8 83,318.3 83.2,317.7 83.5,318.5 83.7,318.6 84,318.5 84.2,317.9 84.5,318 84.7,317.9 85,317.9 85.2,318.8 85.5,318.6 85.7,319 86,318.4 86.2,318.6 86.5,319.3 86.7,319.4 87,318.4 87.2,319.3 87.5,319.1 87.7,318.5 88,319.2 88.2,318.9 88.5,319 88.7,319.8 89,319.6 89.2,318.8 89.5,319.6 89.7,318.8 90,319.9 90.2,319.6 90.5,319.7 90.7,319 91,319.1 91.2,319.7 91.5,319.6 91.7,320.1 92,319.5 92.2,319.7 92.5,319.4 92.7,319.9 93,320.5 93.2,319.7 93.5,320.4 93.7,319.7 94,320.6 94.2,320.2 94.5,319.8 94.7,320.6 95,320.8 95.2,320 95.5,320 95.7,320.2 96,320.5 96.2,321.1 96.5,321 96.7,320.4 97,320.1 97.2,320.8 97.5,320.8 97.7,320.5 98,321 98.2,321.4 98.5,320.5 98.7,320.7 99,321.4 99.2,320.6 99.5,320.6 99.7,320.7 100,321.4 100.2,320.7 100.5,320.7 100.7,321.4 101,321.6 101.2,321.6 101.5,321.2 101.7,321.8 102,320.9 102.2,321.3 102.5,321.2 102.7,321.5 103,321.1 103.2,321 103.5,322.1 103.7,321.3 104,321.5 104.2,322 104.5,321.3 104.7,321.4 105,321.7 105.2,321.1 105.5,321 105.7,321.8 106,321.5 106.2,321.1 106.5,321.4 106.7,321.9 107,322 107.2,321.7 107.5,321.4 107.7,322.1 108,321.4 108.2,322 108.5,321.3 108.7,322.3 109,322.1 109.2,321.8 109.5,321.7 109.7,321.9 110,322 110.2,321.9 110.5,322 110.7,321.3 111,321.7 111.2,322.1 111.5,321.8 111.7,322.4 112,321.9 112.2,321.6 112.5,322.3 112.7,321.8 113,321.9 113.2,322.1 113.5,322.3 113.7,321.6 114,322.4 114.2,322 114.5,321.8 114.7,321.8 115,322.5 115.2,322.5 115.5,322.1 115.7,321.8 116,322.6 116.2,321.5 116.5,321.5 116.7,322.1 117,322.2 117.2,321.5 117.5,321.8 117.7,321.6 118,321.9 118.2,321.8 118.5,321.8 118.7,321.8 119,322.1 119.2,321.8 119.5,322.6 119.7,322.2 120,321.9 120.2,322.5 120.5,322.7 120.7,322.2 121,321.8 121.2,322.6 121.5,322.8 121.7,323 122,322.8 122.2,322.7 122.5,322.4 122.7,322.3 123,322.1 123.2,323 123.5,322.7 123.7,322.4 124,322.3 124.2,322.5 124.5,323.1 124.7,322.4 125,322.3 125.2,322.7 125.5,322.6 125.7,323.1 126,323 126.2,322.9 126.5,323.5 126.7,323.4 127,322.5 127.2,322.7 127.5,322.9 127.7,322.5 128,323.4 128.2,323.4 128.4,322.8 128.7,323.6 128.9,323.2 129.2,322.8 129.4,323.3 129.7,323.4 129.9,323.5 130.2,323.8 130.4,323.7 130.7,323.1 130.9,323.2 131.2,322.7 131.4,323.2 131.7,322.9 131.9,322.9 132.2,323.7 132.4,322.8 132.7,322.9 132.9,323.6 133.2,323.5 133.4,323.3 133.7,323.8 133.9,323.1 134.2,323.1 134.4,323.5 134.7,323 134.9,323.7 135.2,324 135.4,323.9 135.7,324 135.9,323 136.2,323.4 136.4,324 136.7,324 136.9,323.7 137.2,323.8 137.4,323.3 137.7,323.3 137.9,323.1 138.2,324.1 138.4,323.4 138.7,324.2 138.9,323.1 139.2,324 139.4,323.7 139.7,323.2 139.9,323.9 140.2,324 140.4,324 140.7,324 140.9,324 141.2,324.1 141.4,323.6 141.7,324.3 141.9,323.8 142.2,323.5 142.4,324.4 142.7,323.6 142.9,323.8 143.2,324.1 143.4,324.2 143.7,323.7 143.9,323.3 144.2,324 144.4,324 144.7,324.2 144.9,323.6 145.2,324.3 145.4,324.3 145.7,324.4 145.9,324.3 146.2,324.2 146.4,324 146.7,324.4 146.9,323.7 147.2,324.2 147.4,324.4 147.7,324.4 147.9,323.6 148.2,323.8 148.4,324.6 148.7,324.4 148.9,323.7 149.2,324.1 149.4,324.5 149.7,324.5 149.9,324.1 150.2,323.7 150.4,323.8 150.7,323.6 150.9,323.8 151.2,323.6 151.4,324.4 151.7,324.4 151.9,324.1 152.2,324.7 152.4,323.8 152.7,323.9 152.9,324.4 153.2,324.3 153.4,323.8 153.7,324.7 153.9,324.4 154.2,324.4 154.4,324.1 154.7,324.4 154.9,323.8 155.2,324.1 155.4,324.5 155.7,324.5 155.9,324.4 156.2,323.8 156.4,324.2 156.7,325 156.9,324.9 157.2,324.8 157.4,323.9 157.7,323.9 157.9,324.1 158.2,324.8 158.4,324.1 158.7,324.1 158.9,324.2 159.2,324.8 159.4,324.5 159.7,324.9 159.9,324 160.2,324 160.4,325 160.7,324.1 160.9,324.8 161.2,324.7 161.4,324.2 161.7,324.3 161.9,324.9 162.2,324 162.4,325.2 162.7,324.1 162.9,324.2 163.2,324.8 163.4,324.2 163.7,325.3 163.9,324.6 164.2,324.2 164.4,324.3 164.7,324.8 164.9,325.2 165.2,324.4 165.4,324.6 165.7,324.8 165.9,324.9 166.2,325 166.4,324.6 166.7,324.6 166.9,325.2 167.2,325.3 167.4,324.7 167.7,325.4 167.9,324.4 168.2,325.2 168.4,325.3 168.7,324.9 168.9,325.1 169.2,324.3 169.4,325.3 169.7,325.1 169.9,325 170.2,325 170.4,324.5 170.7,325.3 170.9,324.9 171.2,325 171.4,324.5 171.7,325 171.9,324.6 172.2,325.2 172.4,324.3 172.7,324.4 172.9,324.5 173.2,324.8 173.4,325.3 173.7,324.3 173.9,325 174.2,324.3 174.4,324.8 174.7,324.7 174.9,324.5 175.2,324.9 175.4,324.7 175.7,324.6 175.9,325 176.2,324.6 176.4,325.5 176.7,324.6 176.9,325.5 177.2,324.5 177.4,325.4 177.7,324.4 177.9,324.3 178.2,324.4 178.4,325.1 178.7,324.6 178.9,324.6 179.2,325.1 179.4,324.3 179.7,324.9 179.9,324.8 180.2,324.5 180.4,325.4 180.7,324.7 180.9,324.6 181.2,325.1 181.4,325.3 181.7,324.5 181.9,324.4 182.2,325.4 182.4,324.8 182.7,324.9 182.9,324.8 183.2,325.2 183.4,324.8 183.7,325.2 183.9,324.9 184.2,324.3 184.4,324.9 184.7,325.3 184.9,324.9 185.2,324.7 185.4,324.3 185.7,325.1 185.9,324.7 186.2,324.6 186.4,324.7 186.7,324.7 186.9,324.6 187.2,324.6 187.4,324.8 187.7,324.3 187.9,324.5 188.2,324.7 188.4,325.3 188.7,324.7 188.9,324.9 189.2,325.3 189.4,325.2 189.7,325.1 189.9,325 190.2,324.9 190.4,324.4 190.7,324.4 190.9,324.3 191.2,324.3 191.4,324.9 191.7,324.9 191.9,324.2 192.2,325.2 192.4,324.7 192.7,324.8 192.9,324.3 193.2,325.2 193.4,324.3 193.7,324.5 193.9,324.8 194.2,324.8 194.4,324.8 194.7,325.3 194.9,324.3 195.2,325 195.4,324.7 195.7,325.2 195.9,325.1 196.2,325.2 196.4,325.3 196.7,325.2 196.9,324.5 197.2,325 197.4,325.2 197.7,325.3 197.9,325.5 198.2,324.9 198.4,324.4 198.7,325.3 198.9,324.7 199.2,325.2 199.4,324.5 199.7,324.9 199.9,325.2 200.2,324.7 200.4,324.9 200.7,324.7 200.9,325.6 201.2,325.5 201.4,325.4 201.7,325.3 201.9,325.8 202.2,325 202.4,325.5 202.7,324.8 202.9,325.5 203.2,325 203.4,324.8 203.7,325.9 203.9,325.2 204.2,326 204.4,325.7 204.7,325.7 204.9,325.7 205.2,326.1 205.4,325.2 205.7,326.2 205.9,325.4 206.2,325.1 206.4,326.2 206.7,325.2 206.9,325.7 207.2,326.1 207.4,325.5 207.7,326 207.9,325.9 208.2,326 208.4,325.4 208.7,326.1 208.9,326.3 209.2,325.4 209.4,326.4 209.7,326.5 209.9,325.7 210.2,326.5 210.4,326.5 210.7,325.5 210.9,326.3 211.2,326.6 211.4,326.4 211.7,325.6 211.9,325.9 212.2,326.1 212.4,325.9 212.7,326 212.9,325.6 213.2,325.5 213.4,325.9 213.7,326.1 213.9,326.3 214.2,326.7 214.4,325.7 214.7,326 214.9,326.7 215.2,326.6 215.4,325.8 215.7,326.5 215.9,325.8 216.2,326.8 216.4,326 216.7,326.4 216.9,326.3 217.2,326.3 217.4,326 217.7,326.2 217.9,326.1 218.2,326.5 218.4,326.3 218.7,326.5 218.9,326.5 219.2,326.6 219.4,327 219.7,326.5 219.9,326.5 220.2,326.6 220.4,326.5 220.7,326.4 220.9,326.2 221.2,326.6 221.4,326.2 221.7,326.7 221.9,327 222.2,326.9 222.4,326.9 222.7,326.2 222.9,326 223.2,326.3 223.4,326.7 223.7,326.2 223.9,326.2 224.2,327.2 224.4,326.5 224.7,326.1 224.9,326.7 225.2,326.9" fill="none" stroke="#d8c3c7" stroke-width="1.55" stroke-linejoin="round" />
<rect x="54.1" y="251.9" width="12.9" height="77.7" fill="url(#gb)" opacity="0.62"/>
<rect x="79.3" y="221.5" width="13.1" height="108.1" fill="url(#gb)" opacity="0.62"/>
<rect x="108.4" y="246.7" width="13" height="82.9" fill="url(#gb)" opacity="0.62"/>
<text x="60.4" y="249.7" font-size="8" text-anchor="middle" fill="#000" stroke="#000" >(002)</text>
<text x="115.3" y="245.7" font-size="8" text-anchor="middle" fill="#000" stroke="#000" >(100)</text>
<rect x="32.9" y="191.9" width="192.5" height="155" fill="none" stroke="#1e1e1e" stroke-width="1.15"/>
<line x1="32.9" y1="346.9" x2="32.9" y2="349.7" stroke="#1e1e1e" stroke-width="1.0" />
<text x="32.9" y="359.6" font-size="9.3" text-anchor="middle" fill="#000" stroke="#000" >10</text>
<line x1="57" y1="346.9" x2="57" y2="349.7" stroke="#1e1e1e" stroke-width="1.0" />
<text x="57" y="359.6" font-size="9.3" text-anchor="middle" fill="#000" stroke="#000" >20</text>
<line x1="81" y1="346.9" x2="81" y2="349.7" stroke="#1e1e1e" stroke-width="1.0" />
<text x="81" y="359.6" font-size="9.3" text-anchor="middle" fill="#000" stroke="#000" >30</text>
<line x1="105.1" y1="346.9" x2="105.1" y2="349.7" stroke="#1e1e1e" stroke-width="1.0" />
<text x="105.1" y="359.6" font-size="9.3" text-anchor="middle" fill="#000" stroke="#000" >40</text>
<line x1="129.2" y1="346.9" x2="129.2" y2="349.7" stroke="#1e1e1e" stroke-width="1.0" />
<text x="129.2" y="359.6" font-size="9.3" text-anchor="middle" fill="#000" stroke="#000" >50</text>
<line x1="153.2" y1="346.9" x2="153.2" y2="349.7" stroke="#1e1e1e" stroke-width="1.0" />
<text x="153.2" y="359.6" font-size="9.3" text-anchor="middle" fill="#000" stroke="#000" >60</text>
<line x1="177.3" y1="346.9" x2="177.3" y2="349.7" stroke="#1e1e1e" stroke-width="1.0" />
<text x="177.3" y="359.6" font-size="9.3" text-anchor="middle" fill="#000" stroke="#000" >70</text>
<line x1="201.4" y1="346.9" x2="201.4" y2="349.7" stroke="#1e1e1e" stroke-width="1.0" />
<text x="201.4" y="359.6" font-size="9.3" text-anchor="middle" fill="#000" stroke="#000" >80</text>
<line x1="225.5" y1="346.9" x2="225.5" y2="349.7" stroke="#1e1e1e" stroke-width="1.0" />
<text x="225.5" y="359.6" font-size="9.3" text-anchor="middle" fill="#000" stroke="#000" >90</text>
<text x="34.7" y="203.7" font-size="12" text-anchor="start" fill="#000" stroke="#000" >(d)</text>
<text x="129.5" y="370" font-size="10.3" text-anchor="middle" fill="#000" stroke="#000" >2θ (degree)</text>
<text transform="translate(27.1,268.2) rotate(-90)" font-size="9.8" text-anchor="middle" fill="#000" stroke="#000">Intensity (a.u.)</text>
<line x1="121.4" y1="203.2" x2="145" y2="203.2" stroke="#6f9fb3" stroke-width="1.1" />
<text x="148.2" y="206.4" font-size="10.6" text-anchor="start" fill="#000" stroke="#000" >BC</text>
<line x1="165.2" y1="203.2" x2="188.8" y2="203.2" stroke="#d8c3c7" stroke-width="1.1" />
<text x="192" y="206.4" font-size="10.6" text-anchor="start" fill="#000" stroke="#000" >KBC</text>
<polyline points="266.6,265.7 266.9,265.1 267.1,266 267.4,265.2 267.6,266.7 267.9,267.2 268.1,265.4 268.4,266.6 268.6,267.3 268.9,267 269.1,266 269.4,265.9 269.6,266.8 269.9,266 270.1,267.8 270.4,267.1 270.6,266.8 270.9,267.8 271.1,266.7 271.4,267.4 271.6,267.4 271.9,266.6 272.1,268.1 272.4,267.9 272.6,266.9 272.9,267.4 273.1,267.2 273.4,268.5 273.6,268 273.9,268.6 274.1,268.2 274.4,268.3 274.6,267.3 274.9,268.4 275.1,267.3 275.4,268.4 275.6,268.1 275.9,267.7 276.1,266.9 276.4,267.8 276.6,267.8 276.9,267.9 277.1,266.6 277.4,266.9 277.6,267.6 277.9,268.1 278.1,266.8 278.4,268.1 278.6,268.3 278.9,266.3 279.1,267.6 279.4,266.9 279.6,266.3 279.9,266.4 280.1,266.7 280.4,265.9 280.6,267.2 280.9,266.7 281.1,266.4 281.4,267.4 281.6,267.6 281.9,266.5 282.1,266.1 282.4,266.6 282.6,266.2 282.9,267.1 283.1,265.8 283.4,265.3 283.6,265 283.9,265.2 284.1,265 284.4,266.6 284.6,266 284.9,265.7 285.1,266.3 285.4,265.5 285.6,265.6 285.9,264.4 286.1,264.5 286.4,265.1 286.6,265.4 286.9,264.2 287.1,264.4 287.4,263.9 287.6,263.8 287.9,264.3 288.1,265 288.4,265 288.6,264 288.9,262.8 289.1,263.2 289.4,263.9 289.6,264.4 289.9,262.7 290.1,264.1 290.4,264.1 290.6,262.3 290.9,264 291.1,263.2 291.4,263.7 291.6,263.2 291.9,263.2 292.1,263.5 292.4,263.2 292.6,262.3 292.9,262.2 293.1,263.4 293.4,261.8 293.6,262 293.9,261.5 294.1,261.8 294.4,262.3 294.6,261.5 294.9,261.9 295.1,262.3 295.4,261.8 295.6,262.6 295.9,262.1 296.1,261.8 296.4,262.6 296.6,262.4 296.9,262.2 297.1,261.7 297.4,263.6 297.6,262 297.9,262.6 298.1,263.1 298.4,264 298.6,262.8 298.9,262.6 299.1,264 299.4,264.7 299.6,263.8 299.9,265.1 300.1,263.9 300.4,265.2 300.6,263.5 300.9,265.1 301.1,265.7 301.4,264.6 301.6,265.9 301.9,265.5 302.1,265.1 302.4,264.7 302.6,266.2 302.9,265.8 303.1,266.3 303.4,265.8 303.6,265.6 303.9,266 304.1,267.3 304.4,266.4 304.6,266.9 304.9,267.7 305.1,267.2 305.4,267.7 305.6,267.7 305.9,268.6 306.1,267.8 306.4,267.5 306.6,268.8 306.9,266.7 307.1,266.5 307.4,264.3 307.6,263.3 307.9,266.4 308.1,267.8 308.4,267.7 308.6,267.6 308.9,267.2 309.1,268.6 309.4,268.4 309.6,266.1 309.9,264.6 310.1,262.3 310.4,257.2 310.6,253.4 310.9,257.3 311.1,262.6 311.4,265.7 311.6,266.1 311.9,268.1 312.1,269.2 312.4,268.9 312.6,269.2 312.9,270 313.1,270.6 313.4,269.9 313.6,271.8 313.9,272 314.1,271.2 314.4,271.5 314.6,271.5 314.9,272.1 315.1,273.2 315.4,271.9 315.6,272.7 315.9,270.8 316.1,270.4 316.4,270.2 316.6,268.3 316.9,266.5 317.1,264.8 317.4,259 317.6,250.2 317.9,231.3 318.1,209.1 318.4,214 318.6,236.5 318.9,251.6 319.1,260.6 319.4,264.6 319.6,267.2 319.9,269.9 320.1,270.1 320.4,271.1 320.6,271.4 320.9,271.9 321.1,273 321.4,272.7 321.6,273.2 321.9,273.7 322.1,273.3 322.4,273.3 322.6,273.4 322.9,275.2 323.1,273.9 323.4,274.1 323.6,274.6 323.9,274.4 324.1,274 324.4,274.6 324.6,274.3 324.9,274 325.1,275.3 325.4,275.3 325.6,276.3 325.9,275.4 326.1,276.5 326.4,275.3 326.6,276.3 326.9,276.4 327.1,276 327.4,277.7 327.6,277.9 327.9,276.8 328.1,277.9 328.4,278.5 328.6,277.9 328.9,277.5 329.1,278.2 329.4,277.6 329.6,278 329.9,278.2 330.1,277.4 330.4,278.2 330.6,277.9 330.9,278 331.1,277.4 331.4,278.3 331.6,277.1 331.9,277.8 332.1,277.9 332.4,276.8 332.6,278.4 332.9,277.9 333.1,276.9 333.4,278.5 333.6,278.2 333.9,278.6 334.1,278.1 334.4,277.7 334.6,278.3 334.9,277.4 335.1,277.6 335.4,277.4 335.6,277.3 335.9,278.6 336.1,277.6 336.4,277.6 336.6,277.3 336.9,277.1 337.1,276.9 337.4,278.3 337.6,277.8 337.9,277.2 338.1,277.2 338.4,277.5 338.6,276.1 338.9,275.1 339.1,274.2 339.4,272.1 339.6,271.5 339.9,273 340.1,275.1 340.4,276.1 340.6,276.5 340.9,276.2 341.1,278.1 341.4,278.1 341.6,277.6 341.9,278.2 342.1,278.6 342.4,277.4 342.6,278 342.9,278.9 343.1,277.4 343.4,277.3 343.6,279.1 343.9,279 344.1,277.3 344.4,278.4 344.6,278.6 344.9,278.8 345.1,278.6 345.4,278.5 345.6,278.7 345.9,278.7 346.1,277.6 346.4,277.8 346.6,278.1 346.9,279.4 347.1,278.5 347.4,278.8 347.6,279.5 347.9,277.6 348.1,277.7 348.4,277.8 348.6,279 348.9,278.4 349.1,276.8 349.4,276.3 349.6,275.8 349.9,276.3 350.1,273.4 350.4,270.8 350.6,264.2 350.9,254.9 351.1,252.6 351.4,261.3 351.6,269.1 351.9,273.9 352.1,276.1 352.4,276.2 352.6,277.1 352.9,278.3 353.1,277.8 353.4,277.7 353.6,278 353.9,278.6 354.1,278.2 354.4,279.5 354.6,279.4 354.9,280 355.1,279.7 355.4,279.2 355.6,278.7 355.9,278.9 356.1,280.3 356.4,279.9 356.6,278.8 356.9,279.7 357.1,280.4 357.4,280.5 357.6,280.6 357.9,280.8 358.1,280 358.4,280.4 358.6,279.2 358.9,280.5 359.1,280.2 359.4,279.6 359.6,279.7 359.9,280.6 360.1,279.6 360.4,279.8 360.6,279.9 360.9,280.6 361.1,279.4 361.4,279.1 361.6,279.2 361.9,280.2 362.1,278.6 362.4,279.4 362.6,279 362.9,278.5 363.1,278.4 363.4,279 363.6,278.3 363.9,279.1 364.1,279.6 364.4,279.2 364.6,280.1 364.9,279.7 365.1,279.3 365.4,279.5 365.6,280 365.9,280.8 366.1,281.1 366.4,280.5 366.6,279.6 366.9,280.8 367.1,281.5 367.4,279.8 367.6,280.4 367.9,279.8 368.1,281 368.4,280.1 368.6,281.9 368.9,280.8 369.1,281.3 369.4,280.7 369.6,280.8 369.9,280.1 370.1,282 370.4,280.7 370.6,280.7 370.9,281 371.1,280.7 371.4,281 371.6,281 371.9,282.5 372.1,282.3 372.4,281.1 372.6,282.3 372.9,280.7 373.1,281.8 373.4,282.5 373.6,281.2 373.9,281.1 374.1,282.4 374.4,282.2 374.6,282.9 374.9,281.1 375.1,281.1 375.4,280.9 375.6,281.4 375.9,280.7 376.1,281.6 376.4,280.1 376.6,280.2 376.9,278.9 377.1,276.1 377.4,276.5 377.6,278.9 377.9,279.5 378.1,280.9 378.4,281.2 378.6,282.9 378.9,282.9 379.1,283.3 379.4,282.2 379.6,282.1 379.9,281.6 380.1,281.7 380.4,283.6 380.6,282.9 380.9,282.6 381.1,282.1 381.4,283.7 381.6,281.9 381.9,283.2 382.1,283.1 382.4,283.4 382.6,283.4 382.9,283.3 383.1,283.1 383.4,282.8 383.6,283.6 383.9,282.2 384.1,282.6 384.4,283.6 384.6,283.9 384.9,283.4 385.1,282.1 385.4,283.8 385.6,284.1 385.9,283 386.1,282.9 386.4,282.8 386.6,283.4 386.9,282.5 387.1,282.4 387.4,284.2 387.6,283.2 387.9,283.2 388.1,282.8 388.4,282.3 388.6,282.3 388.9,282.3 389.1,283.7 389.4,283.8 389.6,284.2 389.9,284.3 390.1,282.5 390.4,282.3 390.6,283.7 390.9,282.8 391.1,284.2 391.4,283.3 391.6,283.2 391.9,283.1 392.1,282.9 392.4,283.5 392.6,282.7 392.9,284.3 393.1,284 393.4,284.1 393.6,284.3 393.9,283.7 394.1,284.2 394.4,283.9 394.6,283.3 394.9,282.3 395.1,283.4 395.4,283.4 395.6,283.9 395.9,284.1 396.1,283.6 396.4,282.5 396.6,282.5 396.9,284.1 397.1,284.1 397.4,283.1 397.6,282.4 397.9,282.4 398.1,282.4 398.4,284.1 398.6,283 398.9,283 399.1,283.7 399.4,282.3 399.6,282.8 399.9,282.7 400.1,282.1 400.4,281.1 400.6,281.4 400.9,280.5 401.1,280.9 401.4,281.3 401.6,281.2 401.9,283.3 402.1,282.9 402.4,283.6 402.6,283.8 402.9,282.6 403.1,282.4 403.4,284.2 403.6,283.3 403.9,283.7 404.1,284.1 404.4,283 404.6,283.6 404.9,283 405.1,282.9 405.4,282.5 405.6,282.9 405.9,283 406.1,284 406.4,283.5 406.6,284.1 406.9,283.1 407.1,282.9 407.4,283.7 407.6,283.1 407.9,284.1 408.1,283.3 408.4,283.1 408.6,284.1 408.9,282.9 409.1,284.1 409.4,283.4 409.6,282.7 409.9,283.9 410.1,283.8 410.4,282.8 410.6,283.5 410.9,283.5 411.1,284.1 411.4,283 411.6,283.7 411.9,284.6 412.1,282.6 412.4,284.1 412.6,283.3 412.9,283.6 413.1,283.2 413.4,283.5 413.6,283.6 413.9,284.5 414.1,284.4 414.4,284.5 414.6,284.6 414.9,283.4 415.1,284.2 415.4,284.4 415.6,282.8 415.9,284.1 416.1,283.8 416.4,283 416.6,283.9 416.9,284 417.1,283.9 417.4,282.6 417.6,284.5 417.9,283.3 418.1,284.2 418.4,282.8 418.6,283.7 418.9,282.6 419.1,283.6 419.4,283.7 419.6,283.1 419.9,283.8 420.1,283.2 420.4,282.1 420.6,281.9 420.9,281.6 421.1,281.8 421.4,282.3 421.6,280.1 421.9,280.3 422.1,279.8 422.4,280.7 422.6,281.6 422.9,281.4 423.1,283.3 423.4,282.7 423.6,284 423.9,282.2 424.1,282.5 424.4,282.7 424.6,284 424.9,282.7 425.1,283.5 425.4,283.7 425.6,283.7 425.9,283.3 426.1,284.5 426.4,283.6 426.6,283.1 426.9,283.9 427.1,283 427.4,284.1 427.6,283.1 427.9,284.6 428.1,282.9 428.4,283.4 428.6,283.2 428.9,284 429.1,283.7 429.4,283.8 429.6,283.8 429.9,284.1 430.1,283.4 430.4,283.5 430.6,283.4 430.9,283.2 431.1,284.2 431.4,284.8 431.6,284.8 431.9,284.9 432.1,283.1 432.4,284.4 432.6,283.1 432.9,284.6 433.1,284.7 433.4,284 433.6,285 433.9,283.9 434.1,284.1 434.4,283.7 434.6,284.7 434.9,284.2 435.1,284.1 435.4,283.9 435.6,284.6 435.9,283.2 436.1,284.4 436.4,283.2 436.6,283.5 436.9,283.1 437.1,284.2 437.4,285.1 437.6,283.5 437.9,283.3 438.1,284.2 438.4,283.1 438.6,283.8 438.9,284 439.1,283.2 439.4,284.9 439.6,283.9 439.9,284.3 440.1,283.3 440.4,285 440.6,283.4 440.9,283.9 441.1,283 441.4,283.1 441.6,282.9 441.9,283.2 442.1,282.2 442.4,282.5 442.6,282.2 442.9,281.2 443.1,282.5 443.4,281.5 443.6,283.1 443.9,284 444.1,283.9 444.4,282.8 444.6,283.1 444.9,283.1 445.1,283.4 445.4,284.3 445.6,285.3 445.9,284.1 446.1,285 446.4,283.9 446.6,285.4 446.9,284.2 447.1,283.8 447.4,283.8 447.6,283.7 447.9,283.6 448.1,285.4 448.4,285 448.6,283.8 448.9,284.8 449.1,284.5 449.4,283.7 449.6,285.6 449.9,284.1 450.1,284.8 450.4,284.4 450.6,284.6 450.9,285.7 451.1,285.3 451.4,284.2 451.6,285.1 451.9,284.7 452.1,284.2 452.4,284.9 452.6,284.2 452.9,285.4 453.1,284.4 453.4,284 453.6,285.6 453.9,284.1 454.1,285.3 454.4,285.6 454.6,285.3 454.9,285.8 455.1,284.4 455.4,284.6 455.6,285.2 455.9,284.1 456.1,286 456.4,285.3 456.6,285.3 456.9,285.1 457.1,285" fill="none" stroke="#6f9fb3" stroke-width="2.15" stroke-linejoin="round" />
<rect x="266.2" y="192.2" width="191.8" height="154.9" fill="none" stroke="#1e1e1e" stroke-width="1.15"/>
<line x1="266.2" y1="303.5" x2="458" y2="303.5" stroke="#111" stroke-width="0.8" />
<line x1="266.2" y1="325.2" x2="458" y2="325.2" stroke="#777" stroke-width="0.8" />
<line x1="302.6" y1="303.5" x2="302.6" y2="295.4" stroke="#111" stroke-width="0.9" />
<line x1="315.7" y1="303.5" x2="315.7" y2="286.2" stroke="#111" stroke-width="0.9" />
<line x1="338.8" y1="303.5" x2="338.8" y2="301.4" stroke="#111" stroke-width="0.8" />
<line x1="344.8" y1="303.5" x2="344.8" y2="301.4" stroke="#111" stroke-width="0.8" />
<line x1="347.2" y1="303.5" x2="347.2" y2="301.4" stroke="#111" stroke-width="0.8" />
<line x1="352.3" y1="303.5" x2="352.3" y2="301.4" stroke="#111" stroke-width="0.8" />
<line x1="359.4" y1="303.5" x2="359.4" y2="301.4" stroke="#111" stroke-width="0.8" />
<line x1="361.5" y1="303.5" x2="361.5" y2="301.4" stroke="#111" stroke-width="0.8" />
<line x1="376" y1="303.5" x2="376" y2="301.4" stroke="#111" stroke-width="0.8" />
<line x1="381" y1="303.5" x2="381" y2="301.4" stroke="#111" stroke-width="0.8" />
<line x1="386.3" y1="303.5" x2="386.3" y2="301.4" stroke="#111" stroke-width="0.8" />
<line x1="392.3" y1="303.5" x2="392.3" y2="301.4" stroke="#111" stroke-width="0.8" />
<line x1="402.2" y1="303.5" x2="402.2" y2="301.4" stroke="#111" stroke-width="0.8" />
<line x1="406" y1="303.5" x2="406" y2="301.4" stroke="#111" stroke-width="0.8" />
<line x1="422.9" y1="303.5" x2="422.9" y2="301.4" stroke="#111" stroke-width="0.8" />
<line x1="428.5" y1="303.5" x2="428.5" y2="301.4" stroke="#111" stroke-width="0.8" />
<line x1="434.1" y1="303.5" x2="434.1" y2="301.4" stroke="#111" stroke-width="0.8" />
<line x1="437.9" y1="303.5" x2="437.9" y2="301.4" stroke="#111" stroke-width="0.8" />
<line x1="440.3" y1="303.5" x2="440.3" y2="301.4" stroke="#111" stroke-width="0.8" />
<line x1="442.2" y1="303.5" x2="442.2" y2="301.4" stroke="#111" stroke-width="0.8" />
<line x1="447.2" y1="303.5" x2="447.2" y2="301.4" stroke="#111" stroke-width="0.8" />
<line x1="450.1" y1="303.5" x2="450.1" y2="301.4" stroke="#111" stroke-width="0.8" />
<line x1="454.7" y1="303.5" x2="454.7" y2="301.4" stroke="#111" stroke-width="0.8" />
<line x1="456" y1="303.5" x2="456" y2="301.4" stroke="#111" stroke-width="0.8" />
<line x1="370.3" y1="303.5" x2="370.3" y2="301.2" stroke="#111" stroke-width="1.4" />
<line x1="410.3" y1="303.5" x2="410.3" y2="301.2" stroke="#111" stroke-width="1.4" />
<line x1="310.1" y1="325.2" x2="310.1" y2="318.8" stroke="#111" stroke-width="0.9" />
<line x1="318.9" y1="325.2" x2="318.9" y2="310" stroke="#111" stroke-width="0.9" />
<line x1="346.5" y1="325.2" x2="346.5" y2="315.6" stroke="#111" stroke-width="0.9" />
<line x1="362.8" y1="325.2" x2="362.8" y2="323.6" stroke="#111" stroke-width="0.9" />
<line x1="368.4" y1="325.2" x2="368.4" y2="321.7" stroke="#111" stroke-width="0.9" />
<line x1="387.8" y1="325.2" x2="387.8" y2="323.7" stroke="#111" stroke-width="0.9" />
<line x1="400.3" y1="325.2" x2="400.3" y2="323.7" stroke="#111" stroke-width="0.9" />
<line x1="405" y1="325.2" x2="405" y2="321.3" stroke="#111" stroke-width="0.9" />
<line x1="421.9" y1="325.2" x2="421.9" y2="322.2" stroke="#111" stroke-width="0.9" />
<line x1="434.1" y1="325.2" x2="434.1" y2="323.8" stroke="#111" stroke-width="0.9" />
<line x1="453.8" y1="325.2" x2="453.8" y2="323.4" stroke="#111" stroke-width="0.9" />
<line x1="307.5" y1="347.1" x2="307.5" y2="341.5" stroke="#111" stroke-width="0.9" />
<line x1="318" y1="347.1" x2="318" y2="328" stroke="#111" stroke-width="0.9" />
<line x1="351.2" y1="347.1" x2="351.2" y2="334.4" stroke="#111" stroke-width="0.9" />
<line x1="371.3" y1="347.1" x2="371.3" y2="343.2" stroke="#111" stroke-width="0.9" />
<line x1="377.4" y1="347.1" x2="377.4" y2="340.4" stroke="#111" stroke-width="0.9" />
<line x1="400.9" y1="347.1" x2="400.9" y2="342.5" stroke="#111" stroke-width="0.9" />
<line x1="417.2" y1="347.1" x2="417.2" y2="343.2" stroke="#111" stroke-width="0.9" />
<line x1="422.5" y1="347.1" x2="422.5" y2="341" stroke="#111" stroke-width="0.9" />
<line x1="443.5" y1="347.1" x2="443.5" y2="341.9" stroke="#111" stroke-width="0.9" />
<text x="453.2" y="296.5" font-size="7.9" text-anchor="end" fill="#000" stroke="#000" >PDF#83-2469</text>
<text x="453.2" y="315.6" font-size="7.9" text-anchor="end" fill="#000" stroke="#000" >PDF#72-1540</text>
<text x="453.2" y="335.9" font-size="7.9" text-anchor="end" fill="#000" stroke="#000" >PDF#77-2064</text>
<line x1="266.3" y1="347.1" x2="266.3" y2="349.9" stroke="#1e1e1e" stroke-width="1.0" />
<text x="266.3" y="359.6" font-size="9.3" text-anchor="middle" fill="#000" stroke="#000" >10</text>
<line x1="290.2" y1="347.1" x2="290.2" y2="349.9" stroke="#1e1e1e" stroke-width="1.0" />
<text x="290.2" y="359.6" font-size="9.3" text-anchor="middle" fill="#000" stroke="#000" >20</text>
<line x1="314.1" y1="347.1" x2="314.1" y2="349.9" stroke="#1e1e1e" stroke-width="1.0" />
<text x="314.1" y="359.6" font-size="9.3" text-anchor="middle" fill="#000" stroke="#000" >30</text>
<line x1="338" y1="347.1" x2="338" y2="349.9" stroke="#1e1e1e" stroke-width="1.0" />
<text x="338" y="359.6" font-size="9.3" text-anchor="middle" fill="#000" stroke="#000" >40</text>
<line x1="361.9" y1="347.1" x2="361.9" y2="349.9" stroke="#1e1e1e" stroke-width="1.0" />
<text x="361.9" y="359.6" font-size="9.3" text-anchor="middle" fill="#000" stroke="#000" >50</text>
<line x1="385.8" y1="347.1" x2="385.8" y2="349.9" stroke="#1e1e1e" stroke-width="1.0" />
<text x="385.8" y="359.6" font-size="9.3" text-anchor="middle" fill="#000" stroke="#000" >60</text>
<line x1="409.7" y1="347.1" x2="409.7" y2="349.9" stroke="#1e1e1e" stroke-width="1.0" />
<text x="409.7" y="359.6" font-size="9.3" text-anchor="middle" fill="#000" stroke="#000" >70</text>
<line x1="433.6" y1="347.1" x2="433.6" y2="349.9" stroke="#1e1e1e" stroke-width="1.0" />
<text x="433.6" y="359.6" font-size="9.3" text-anchor="middle" fill="#000" stroke="#000" >80</text>
<line x1="457.5" y1="347.1" x2="457.5" y2="349.9" stroke="#1e1e1e" stroke-width="1.0" />
<text x="457.5" y="359.6" font-size="9.3" text-anchor="middle" fill="#000" stroke="#000" >90</text>
<text x="267.1" y="202.4" font-size="11.5" text-anchor="start" fill="#000" stroke="#000" >(e)</text>
<text x="362" y="370" font-size="10.3" text-anchor="middle" fill="#000" stroke="#000" >2θ (degree)</text>
<text transform="translate(261.4,269.3) rotate(-90)" font-size="10.2" text-anchor="middle" fill="#000" stroke="#000">Intensity(a.u.)</text>
<line x1="406.3" y1="202.7" x2="430.2" y2="202.7" stroke="#6f9fb3" stroke-width="1.3" />
<text x="433" y="205.8" font-size="10.1" text-anchor="start" fill="#000" stroke="#000" >BC</text>
<polyline points="488.1,234.8 488.4,235.1 488.6,235.9 488.9,235.8 489.1,237.7 489.4,237 489.6,239.3 489.9,237.7 490.1,238.6 490.4,240.3 490.6,240.1 490.9,240 491.1,241.1 491.4,240.6 491.6,240.4 491.9,242.7 492.1,242.8 492.4,242.8 492.6,241.9 492.9,242.8 493.1,242 493.4,242.1 493.6,244.6 493.9,243.5 494.1,243.3 494.4,244.9 494.6,244.5 494.9,245.1 495.1,243.9 495.4,244.9 495.6,245 495.9,245 496.1,244.8 496.4,246.7 496.6,246.6 496.9,246.3 497.1,245.7 497.4,246.7 497.6,246.2 497.9,245.3 498.1,246.9 498.4,247.1 498.6,248 498.9,247.7 499.1,245.9 499.4,246.6 499.6,246 499.9,246.1 500.1,247.2 500.4,246.6 500.6,246.2 500.9,247.7 501.1,248.4 501.4,248.2 501.6,246.3 501.9,246.9 502.1,246.2 502.4,247 502.6,248.2 502.9,246.3 503.1,247.5 503.4,246.8 503.6,246.7 503.9,247.4 504.1,245.9 504.4,245.8 504.6,246.6 504.9,245 505.1,244.7 505.4,245.3 505.6,245.1 505.9,244.6 506.1,244.3 506.4,245.6 506.6,244.1 506.9,243.6 507.1,244.5 507.4,244.3 507.6,243.6 507.9,243.9 508.1,241.5 508.4,241.9 508.6,242.5 508.9,242.6 509.1,240.3 509.4,241.4 509.6,239.8 509.9,239.9 510.1,240.5 510.4,240.2 510.6,238.1 510.9,238.3 511.1,239.8 511.4,238.5 511.6,238.2 511.9,237.2 512.1,237.4 512.4,236.7 512.6,236.2 512.9,236.4 513.1,236.9 513.4,236.6 513.6,236.4 513.9,235.8 514.1,235.9 514.4,236.9 514.6,237 514.9,236.9 515.1,235.3 515.4,236.4 515.6,236.9 515.9,236.1 516.1,236.7 516.4,237.9 516.6,237.8 516.9,238.1 517.1,236.8 517.4,237 517.6,239 517.9,239.2 518.1,238.7 518.4,238.8 518.6,239.9 518.9,241.4 519.1,241.3 519.4,242.5 519.6,241.8 519.9,243.5 520.1,242.6 520.4,245 520.6,243.8 520.9,243.7 521.1,246.1 521.4,245.3 521.6,246 521.9,245.8 522.1,246.4 522.4,247.3 522.6,247.5 522.9,248.5 523.1,248.3 523.4,249.1 523.6,248.5 523.9,250.1 524.1,250.8 524.4,251.9 524.6,251.9 524.9,250.7 525.1,251.8 525.4,253.1 525.6,253.4 525.9,252.1 526.1,252.4 526.4,253.9 526.6,254.2 526.9,253.8 527.1,254.4 527.4,255 527.6,256.4 527.9,255.5 528.1,257.2 528.4,257.6 528.6,256.5 528.9,258.3 529.1,256.7 529.4,257.8 529.6,257.4 529.9,258.2 530.1,258.4 530.4,259.9 530.6,260.3 530.9,259.3 531.1,259.6 531.4,261.4 531.6,259.6 531.9,260.5 532.1,261 532.4,261.4 532.6,260.3 532.9,260.9 533.1,260.7 533.4,262.3 533.6,262.4 533.9,262.8 534.1,262 534.4,261.1 534.6,263.5 534.9,261.7 535.1,262.1 535.4,261.8 535.6,262.8 535.9,263.7 536.1,264.4 536.4,263.6 536.6,262.6 536.9,264.7 537.1,262.9 537.4,263.2 537.6,263.4 537.9,265.2 538.1,264.1 538.4,265.3 538.6,264.7 538.9,264.7 539.1,265.6 539.4,264.2 539.6,264.5 539.9,266.2 540.1,265.6 540.4,265.1 540.6,265.9 540.9,266.3 541.1,266.3 541.4,265.9 541.6,266.3 541.9,265.5 542.1,266.2 542.4,267.3 542.6,267.5 542.9,265.4 543.1,266.1 543.4,266.2 543.6,266.4 543.9,266.5 544.1,266.5 544.4,267.1 544.6,266.6 544.9,268 545.1,266.3 545.4,268.7 545.6,266.9 545.9,268.8 546.1,268.3 546.4,268.9 546.6,267.9 546.9,267.7 547.1,268.5 547.4,267.6 547.6,268.2 547.9,268.6 548.1,267.6 548.4,269.4 548.6,268.7 548.9,268.9 549.1,269.4 549.4,270 549.6,268.2 549.9,268.4 550.1,268.3 550.4,270.5 550.6,269.3 550.9,270.1 551.1,268.8 551.4,270.8 551.6,268.9 551.9,270.4 552.1,268.8 552.4,271 552.6,269.9 552.9,270.6 553.1,270.6 553.4,269.7 553.6,270.5 553.9,269.4 554.1,271.5 554.4,270.7 554.6,270.4 554.9,270.7 555.1,270.9 555.4,270.3 555.6,270.9 555.9,271.8 556.1,271.5 556.4,272.7 556.6,272.1 556.9,272.4 557.1,270.7 557.4,271.7 557.6,271.1 557.9,271.1 558.1,271.4 558.4,272 558.6,271.6 558.9,271.6 559.1,271.6 559.4,273.1 559.6,271.7 559.9,272.9 560.1,273.1 560.4,272.2 560.6,273.1 560.9,273.1 561.1,272.7 561.4,272.4 561.6,271.2 561.9,271.1 562.1,270.7 562.4,271.1 562.6,271.9 562.9,271.7 563.1,272.5 563.4,271.3 563.6,272.1 563.9,271.5 564.1,271.1 564.4,272.5 564.6,271.3 564.9,271.8 565.1,271.1 565.4,272.1 565.6,270.9 565.9,270.6 566.1,272.1 566.4,271.7 566.6,272.1 566.9,270.7 567.1,272.4 567.4,270.6 567.6,272.8 567.9,272.8 568.1,272.5 568.4,271.2 568.6,272.1 568.9,272.9 569.1,272.3 569.4,272.1 569.6,270.6 569.9,270.6 570.1,272.1 570.4,271.7 570.6,271.8 570.9,271.1 571.1,271.4 571.4,272.9 571.6,271.7 571.9,273.2 572.1,271.3 572.4,272.2 572.6,272.6 572.9,272.7 573.1,273.1 573.4,273 573.6,273.2 573.9,271.4 574.1,271.5 574.4,271.7 574.6,271.9 574.9,273.3 575.1,272.9 575.4,273.4 575.6,273.2 575.9,273.2 576.1,272.3 576.4,274.1 576.6,273.9 576.9,273.9 577.1,274.4 577.4,273.2 577.6,273.3 577.9,273.5 578.1,273.2 578.4,273.7 578.6,274 578.9,274 579.1,273 579.4,274.4 579.6,272.9 579.9,273.2 580.1,273.8 580.4,274.9 580.6,273.5 580.9,275 581.1,274.4 581.4,274.7 581.6,273.8 581.9,275.5 582.1,274.8 582.4,273.4 582.6,275.2 582.9,274.4 583.1,275.4 583.4,275.1 583.6,275.8 583.9,275.7 584.1,275.2 584.4,275.5 584.6,273.7 584.9,275.6 585.1,275.5 585.4,276.1 585.6,275.7 585.9,275.4 586.1,275.8 586.4,275.4 586.6,275.2 586.9,276.5 587.1,275.3 587.4,274.3 587.6,274.2 587.9,275.1 588.1,275.4 588.4,275.6 588.6,274.5 588.9,275.7 589.1,276.8 589.4,276.3 589.6,276.2 589.9,275.8 590.1,276.7 590.4,274.8 590.6,276.5 590.9,276.4 591.1,275.6 591.4,275.9 591.6,275.1 591.9,274.8 592.1,275.6 592.4,275.7 592.6,276.1 592.9,275.7 593.1,277.1 593.4,275.3 593.6,277 593.9,276.3 594.1,275.5 594.4,277.2 594.6,276.4 594.9,275.3 595.1,277.2 595.4,275.7 595.6,276.5 595.9,276.8 596.1,276.9 596.4,276.9 596.6,277.2 596.9,277 597.1,275.6 597.4,276.5 597.6,276.3 597.9,275.4 598.1,276.2 598.4,277.1 598.6,276.2 598.9,276.1 599.1,276.3 599.4,276.6 599.6,277.1 599.9,277.3 600.1,275.9 600.4,275.8 600.6,276 600.9,277.3 601.1,277.4 601.4,276 601.6,277.3 601.9,276.5 602.1,277.6 602.4,276.6 602.6,277.5 602.9,276.6 603.1,276.1 603.4,277.3 603.6,276.1 603.9,277.2 604.1,276.5 604.4,276 604.6,276.4 604.9,277.5 605.1,276 605.4,275.5 605.6,277.5 605.9,275.5 606.1,275.8 606.4,276.4 606.6,277.2 606.9,277.7 607.1,275.7 607.4,275.8 607.6,277.8 607.9,276.7 608.1,277.4 608.4,276.2 608.6,276 608.9,277.5 609.1,275.8 609.4,276 609.6,276.2 609.9,276.2 610.1,275.7 610.4,276.1 610.6,275.8 610.9,276.7 611.1,277.1 611.4,276.6 611.6,275.5 611.9,276.9 612.1,277.2 612.4,275.8 612.6,276.6 612.9,277.8 613.1,277.5 613.4,276.6 613.6,276.1 613.9,275.9 614.1,275.6 614.4,276.1 614.6,276.7 614.9,276.8 615.1,276 615.4,276.7 615.6,276.7 615.9,277.6 616.1,277.9 616.4,278 616.6,276.9 616.9,277.8 617.1,277.3 617.4,276 617.6,275.9 617.9,277.3 618.1,277.5 618.4,277.4 618.6,277 618.9,277.3 619.1,277.5 619.4,277.7 619.6,276.3 619.9,277.1 620.1,276.8 620.4,277.2 620.6,277 620.9,276.2 621.1,278 621.4,277.4 621.6,278.3 621.9,276.2 622.1,276.4 622.4,276.4 622.6,278.3 622.9,277.4 623.1,278.1 623.4,276.4 623.6,278.1 623.9,276.4 624.1,278.5 624.4,277.5 624.6,278.7 624.9,277.9 625.1,277.8 625.4,276.7 625.6,277.9 625.9,278.2 626.1,277.9 626.4,278.1 626.6,278.6 626.9,278.1 627.1,278 627.4,277.7 627.6,277.5 627.9,278.2 628.1,278.5 628.4,278.2 628.6,276.6 628.9,277 629.1,277.9 629.4,277.8 629.6,278.7 629.9,278.9 630.1,278.7 630.4,277.9 630.6,278.2 630.9,278.6 631.1,276.8 631.4,277.2 631.6,276.5 631.9,278 632.1,278.7 632.4,276.5 632.6,276.8 632.9,277 633.1,278.4 633.4,277.4 633.6,277 633.9,277.4 634.1,277.1 634.4,277.1 634.6,277.9 634.9,278.2 635.1,277.1 635.4,277.9 635.6,276.6 635.9,278.9 636.1,276.7 636.4,277.9 636.6,279 636.9,277.3 637.1,277.2 637.4,278.3 637.6,277.7 637.9,277.2 638.1,277.9 638.4,278.6 638.6,278.2 638.9,277.1 639.1,278.2 639.4,278.8 639.6,277 639.9,278.2 640.1,277.8 640.4,278.2 640.6,276.9 640.9,277.1 641.1,277.4 641.4,278.6 641.6,277.5 641.9,277.4 642.1,278.4 642.4,276.9 642.6,277.4 642.9,277.9 643.1,277.4 643.4,278.1 643.6,278.1 643.9,276.9 644.1,276.9 644.4,278.6 644.6,277.6 644.9,277 645.1,276.8 645.4,277.7 645.6,278.7 645.9,277.1 646.1,279.1 646.4,276.7 646.6,278.1 646.9,278.4 647.1,278 647.4,277.3 647.6,277.5 647.9,278.1 648.1,278.9 648.4,277.8 648.6,277.6 648.9,277.7 649.1,279.2 649.4,277.4 649.6,277.2 649.9,279 650.1,277.1 650.4,278.9 650.6,278.4 650.9,279.3 651.1,277.7 651.4,279 651.6,277.1 651.9,278.9 652.1,277.8 652.4,278.1 652.6,279 652.9,278.6 653.1,278.2 653.4,277.8 653.6,279 653.9,278.3 654.1,277.8 654.4,278.1 654.6,279.2 654.9,277.4 655.1,278 655.4,279.1 655.6,278.8 655.9,278.4 656.1,277.7 656.4,277.5 656.6,278.4 656.9,279.1 657.1,278.1 657.4,279.7 657.6,279.1 657.9,278.7 658.1,279.4 658.4,278.3 658.6,279.8 658.9,278.6 659.1,277.7 659.4,280.1 659.6,279 659.9,280 660.1,278 660.4,278.3 660.6,279 660.9,280.1 661.1,278.1 661.4,279.2 661.6,279.8 661.9,278.9 662.1,279.1 662.4,280.3 662.6,279.4 662.9,279.8 663.1,279.8 663.4,280.4 663.6,279 663.9,279.5 664.1,278.7 664.4,279.1 664.6,280.3 664.9,280.7 665.1,279.1 665.4,280.3 665.6,279.7 665.9,280.1 666.1,279.4 666.4,279.4 666.6,279 666.9,279.8 667.1,278.7 667.4,280.8 667.6,279.2 667.9,280.3 668.1,280 668.4,279.6 668.6,281.1 668.9,280.9 669.1,280.7 669.4,279.1 669.6,280 669.9,280.5 670.1,279.2 670.4,280.7 670.6,281 670.9,281.4 671.1,280.3 671.4,279.2 671.6,279.6 671.9,281.2 672.1,279.5 672.4,280.8 672.6,280.9 672.9,280.4 673.1,281.2 673.4,279.6 673.6,280.9 673.9,280.3 674.1,281.5 674.4,280.4 674.6,279.9 674.9,280.3 675.1,280.8 675.4,279.7 675.6,281.7 675.9,281.2 676.1,280.4 676.4,281.2 676.6,282.1 676.9,281.2 677.1,280.8 677.4,281.5 677.6,281.7 677.9,281.5 678.1,280.4 678.4,279.9 678.6,280.7 678.9,281 679.1,282 679.4,280.2 679.6,282.1" fill="none" stroke="#d8c3c7" stroke-width="2.4" stroke-linejoin="round" />
<rect x="487.6" y="191.5" width="192.7" height="154.8" fill="none" stroke="#1e1e1e" stroke-width="1.15"/>
<line x1="514.3" y1="346.3" x2="514.3" y2="315.1" stroke="#111" stroke-width="1.1" />
<line x1="528.4" y1="346.3" x2="528.4" y2="286.6" stroke="#111" stroke-width="1.1" />
<line x1="552.6" y1="346.3" x2="552.6" y2="333.5" stroke="#111" stroke-width="1.1" />
<line x1="559.4" y1="346.3" x2="559.4" y2="333.5" stroke="#111" stroke-width="1.1" />
<line x1="561.2" y1="346.3" x2="561.2" y2="334" stroke="#111" stroke-width="1.1" />
<line x1="566.9" y1="346.3" x2="566.9" y2="334" stroke="#111" stroke-width="1.1" />
<line x1="575.1" y1="346.3" x2="575.1" y2="334" stroke="#111" stroke-width="1.1" />
<line x1="603.1" y1="346.3" x2="603.1" y2="334.2" stroke="#111" stroke-width="1.1" />
<line x1="609.7" y1="346.3" x2="609.7" y2="334.2" stroke="#111" stroke-width="1.1" />
<line x1="619.7" y1="346.3" x2="619.7" y2="334.2" stroke="#111" stroke-width="1.1" />
<line x1="624" y1="346.3" x2="624" y2="334.2" stroke="#111" stroke-width="1.1" />
<line x1="642.6" y1="346.3" x2="642.6" y2="334.2" stroke="#111" stroke-width="1.1" />
<line x1="648.4" y1="346.3" x2="648.4" y2="334.2" stroke="#111" stroke-width="1.1" />
<line x1="653.7" y1="346.3" x2="653.7" y2="334.2" stroke="#111" stroke-width="1.1" />
<line x1="658.8" y1="346.3" x2="658.8" y2="334.2" stroke="#111" stroke-width="1.1" />
<line x1="660.2" y1="346.3" x2="660.2" y2="334.2" stroke="#111" stroke-width="1.1" />
<line x1="661.7" y1="346.3" x2="661.7" y2="334.2" stroke="#111" stroke-width="1.1" />
<line x1="663.1" y1="346.3" x2="663.1" y2="334.2" stroke="#111" stroke-width="1.1" />
<line x1="668.4" y1="346.3" x2="668.4" y2="334.2" stroke="#111" stroke-width="1.1" />
<line x1="670.5" y1="346.3" x2="670.5" y2="334.2" stroke="#111" stroke-width="1.1" />
<line x1="586.3" y1="346.3" x2="586.3" y2="334.2" stroke="#111" stroke-width="1.9" />
<line x1="597.6" y1="346.3" x2="597.6" y2="334.2" stroke="#111" stroke-width="1.9" />
<line x1="628.9" y1="346.3" x2="628.9" y2="334.2" stroke="#111" stroke-width="1.9" />
<line x1="676.4" y1="346.3" x2="676.4" y2="334.2" stroke="#111" stroke-width="1.9" />
<text x="675.8" y="328.7" font-size="7.9" text-anchor="end" fill="#000" stroke="#000" >PDF#83-2469</text>
<line x1="487.7" y1="346.3" x2="487.7" y2="349.1" stroke="#1e1e1e" stroke-width="1.0" />
<text x="487.7" y="358.8" font-size="9.3" text-anchor="middle" fill="#000" stroke="#000" >10</text>
<line x1="511.8" y1="346.3" x2="511.8" y2="349.1" stroke="#1e1e1e" stroke-width="1.0" />
<text x="511.8" y="358.8" font-size="9.3" text-anchor="middle" fill="#000" stroke="#000" >20</text>
<line x1="535.8" y1="346.3" x2="535.8" y2="349.1" stroke="#1e1e1e" stroke-width="1.0" />
<text x="535.8" y="358.8" font-size="9.3" text-anchor="middle" fill="#000" stroke="#000" >30</text>
<line x1="559.9" y1="346.3" x2="559.9" y2="349.1" stroke="#1e1e1e" stroke-width="1.0" />
<text x="559.9" y="358.8" font-size="9.3" text-anchor="middle" fill="#000" stroke="#000" >40</text>
<line x1="583.9" y1="346.3" x2="583.9" y2="349.1" stroke="#1e1e1e" stroke-width="1.0" />
<text x="583.9" y="358.8" font-size="9.3" text-anchor="middle" fill="#000" stroke="#000" >50</text>
<line x1="607.9" y1="346.3" x2="607.9" y2="349.1" stroke="#1e1e1e" stroke-width="1.0" />
<text x="607.9" y="358.8" font-size="9.3" text-anchor="middle" fill="#000" stroke="#000" >60</text>
<line x1="632" y1="346.3" x2="632" y2="349.1" stroke="#1e1e1e" stroke-width="1.0" />
<text x="632" y="358.8" font-size="9.3" text-anchor="middle" fill="#000" stroke="#000" >70</text>
<line x1="656" y1="346.3" x2="656" y2="349.1" stroke="#1e1e1e" stroke-width="1.0" />
<text x="656" y="358.8" font-size="9.3" text-anchor="middle" fill="#000" stroke="#000" >80</text>
<line x1="680.1" y1="346.3" x2="680.1" y2="349.1" stroke="#1e1e1e" stroke-width="1.0" />
<text x="680.1" y="358.8" font-size="9.3" text-anchor="middle" fill="#000" stroke="#000" >90</text>
<text x="488.9" y="203" font-size="12.8" text-anchor="start" fill="#000" stroke="#000" >(f)</text>
<text x="583.9" y="369.2" font-size="10.3" text-anchor="middle" fill="#000" stroke="#000" >2θ (degree)</text>
<text transform="translate(480,268.5) rotate(-90)" font-size="10.2" text-anchor="middle" fill="#000" stroke="#000">Intensity(a.u.)</text>
<line x1="623.6" y1="202.7" x2="647.3" y2="202.7" stroke="#d8c3c7" stroke-width="1.3" />
<text x="650.2" y="206" font-size="9.9" text-anchor="start" fill="#000" stroke="#000" >KBC</text>
</svg>
</body></html>
